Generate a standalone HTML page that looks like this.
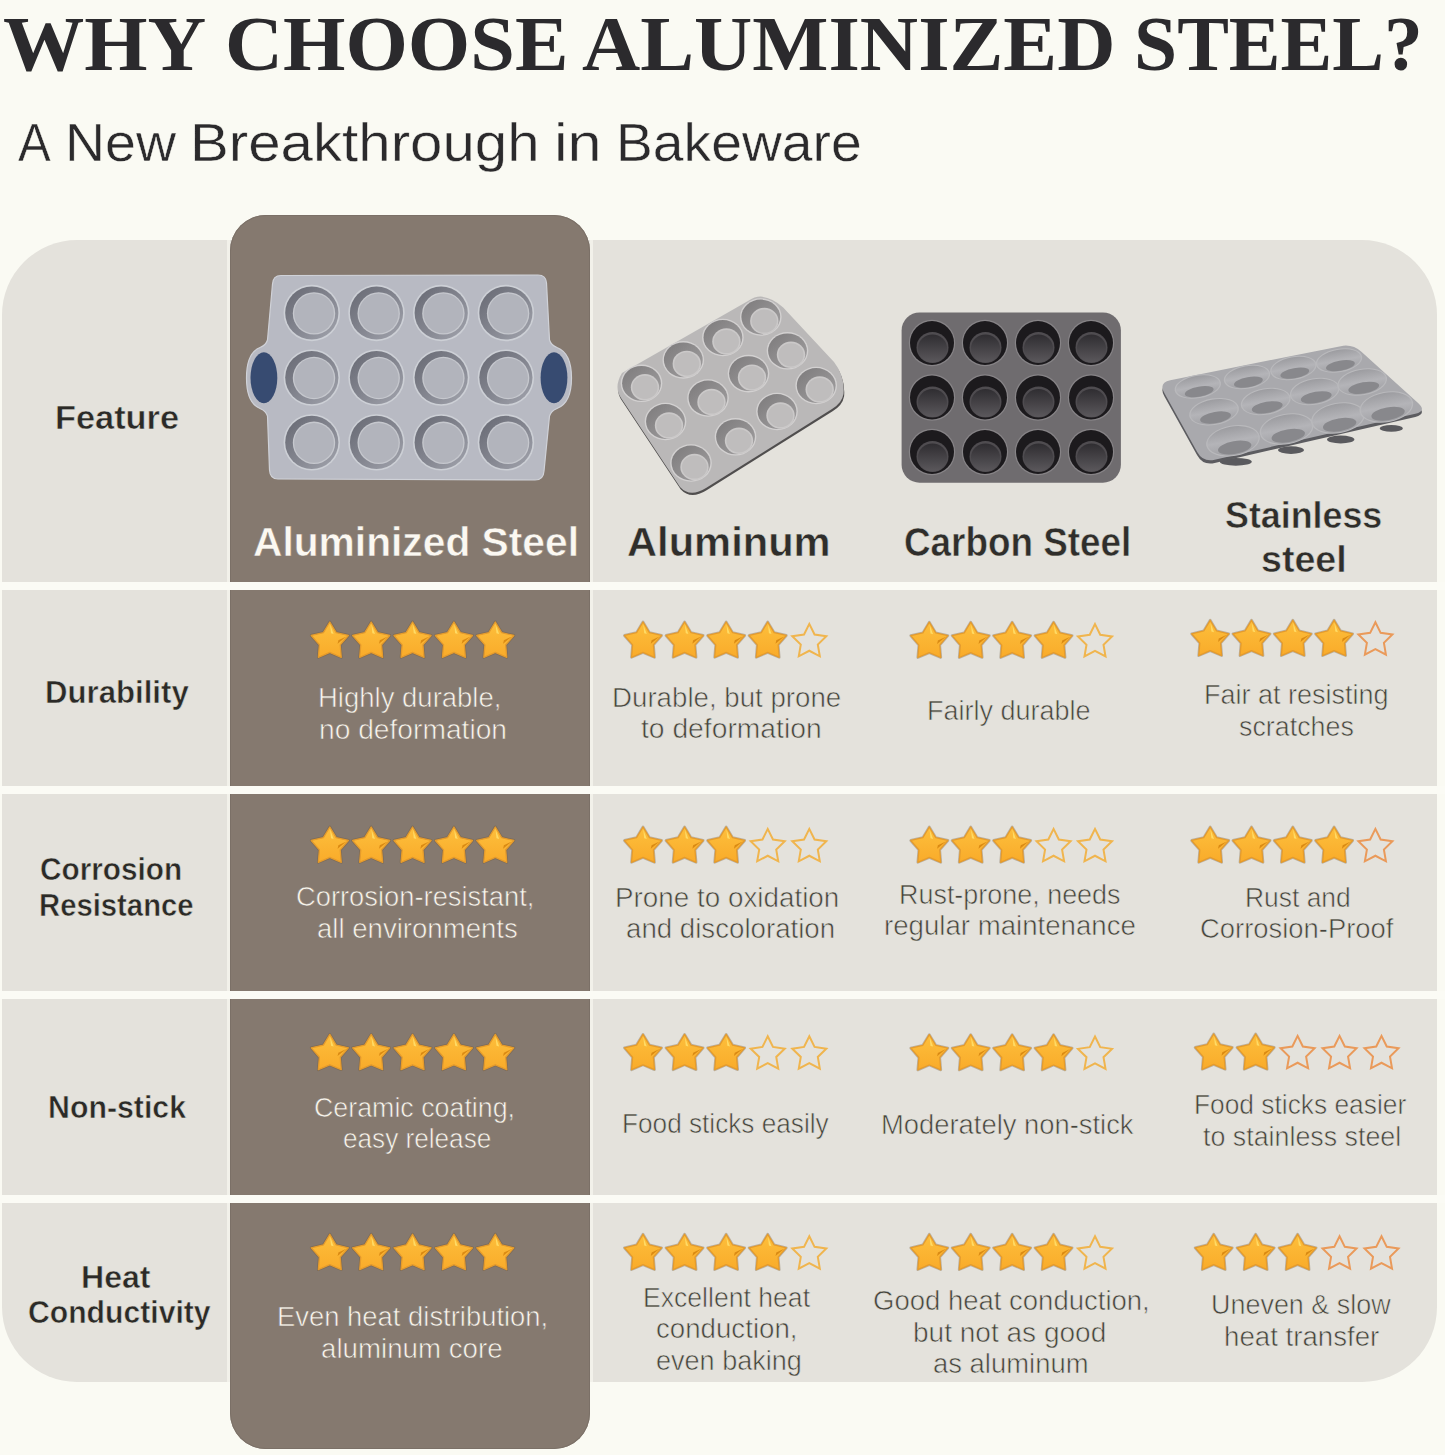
<!DOCTYPE html><html><head><meta charset="utf-8"><style>html,body{margin:0;padding:0;}body{width:1445px;height:1455px;position:relative;overflow:hidden;background:#fafaf3;}.t{position:absolute;white-space:nowrap;transform-origin:0 0;}.bx{position:absolute;}</style></head><body>
<div class="bx" style="left:2px;top:240px;width:1435px;height:1142px;border-radius:75px;background:#e4e2dc"></div>
<div class="bx" style="left:227px;top:240px;width:3px;height:1142px;background:#f2f1ea"></div>
<div class="bx" style="left:590px;top:240px;width:3px;height:1142px;background:#f2f1ea"></div>
<div class="bx" style="left:230px;top:215px;width:360px;height:1234px;border-radius:36px;background:#85796f;box-shadow:inset 0 0 0 1px #7b7067"></div>
<div class="bx" style="left:0px;top:582px;width:1445px;height:8px;background:#fbfbf5"></div>
<div class="bx" style="left:0px;top:786px;width:1445px;height:8px;background:#fbfbf5"></div>
<div class="bx" style="left:0px;top:991px;width:1445px;height:8px;background:#fbfbf5"></div>
<div class="bx" style="left:0px;top:1195px;width:1445px;height:8px;background:#fbfbf5"></div>
<svg class="bx" style="left:0;top:0" width="1445" height="1455" viewBox="0 0 1445 1455"><defs><linearGradient id="sg" x1="0" y1="0" x2="0" y2="1"><stop offset="0" stop-color="#fdbf3c"/><stop offset="1" stop-color="#f9ab2a"/></linearGradient><linearGradient id="ag" x1="0" y1="0" x2="1" y2="1"><stop offset="0" stop-color="#666872"/><stop offset="0.55" stop-color="#858791"/><stop offset="1" stop-color="#a3a5ae"/></linearGradient><linearGradient id="cg" x1="0" y1="0" x2="0" y2="1"><stop offset="0" stop-color="#2f2d31"/><stop offset="1" stop-color="#5b585c"/></linearGradient><linearGradient id="stg" x1="0" y1="0" x2="0" y2="1"><stop offset="0" stop-color="#9c9ca0"/><stop offset="0.5" stop-color="#b4b4b8"/><stop offset="1" stop-color="#a0a0a4"/></linearGradient><linearGradient id="alg" x1="0" y1="0" x2="1" y2="1"><stop offset="0" stop-color="#7c7a7b"/><stop offset="1" stop-color="#a3a1a2"/></linearGradient></defs>
<path d="M281,275.5 L538,275 Q546,275 546.5,283 L549.5,340 Q551,345 557,347.5 Q571.5,353 571.5,378 Q571.5,403 557,408.5 Q551,411 549.5,416 L544,471 Q543.5,480 535,480 L278,479 Q270,479 269.5,470 L267.5,416 Q266,411 260,408.5 Q246.5,403 246.5,378 Q246.5,353 260,347.5 Q266,345 267.5,340 L272.5,284 Q273,275.5 281,275.5 Z" fill="#b8bac3" stroke="#d0d2d8" stroke-width="1.2"/>
<ellipse cx="263.9" cy="377.7" rx="13.4" ry="25.5" fill="#374b71"/>
<ellipse cx="554.0" cy="377.7" rx="13.4" ry="25.5" fill="#374b71"/>
<circle cx="311.8" cy="313.0" r="28.2" fill="#cdd0d6"/>
<circle cx="311.8" cy="313.0" r="26.6" fill="url(#ag)"/>
<circle cx="314.0" cy="313.4" r="21.2" fill="#c6c8ce"/>
<circle cx="314.0" cy="313.4" r="19.9" fill="#b2b4bc"/>
<circle cx="376.5" cy="313.0" r="28.2" fill="#cdd0d6"/>
<circle cx="376.5" cy="313.0" r="26.6" fill="url(#ag)"/>
<circle cx="378.7" cy="313.4" r="21.2" fill="#c6c8ce"/>
<circle cx="378.7" cy="313.4" r="19.9" fill="#b2b4bc"/>
<circle cx="441.2" cy="313.0" r="28.2" fill="#cdd0d6"/>
<circle cx="441.2" cy="313.0" r="26.6" fill="url(#ag)"/>
<circle cx="443.4" cy="313.4" r="21.2" fill="#c6c8ce"/>
<circle cx="443.4" cy="313.4" r="19.9" fill="#b2b4bc"/>
<circle cx="505.9" cy="313.0" r="28.2" fill="#cdd0d6"/>
<circle cx="505.9" cy="313.0" r="26.6" fill="url(#ag)"/>
<circle cx="508.09999999999997" cy="313.4" r="21.2" fill="#c6c8ce"/>
<circle cx="508.09999999999997" cy="313.4" r="19.9" fill="#b2b4bc"/>
<circle cx="311.8" cy="377.6" r="28.2" fill="#cdd0d6"/>
<circle cx="311.8" cy="377.6" r="26.6" fill="url(#ag)"/>
<circle cx="314.0" cy="378.0" r="21.2" fill="#c6c8ce"/>
<circle cx="314.0" cy="378.0" r="19.9" fill="#b2b4bc"/>
<circle cx="376.5" cy="377.6" r="28.2" fill="#cdd0d6"/>
<circle cx="376.5" cy="377.6" r="26.6" fill="url(#ag)"/>
<circle cx="378.7" cy="378.0" r="21.2" fill="#c6c8ce"/>
<circle cx="378.7" cy="378.0" r="19.9" fill="#b2b4bc"/>
<circle cx="441.2" cy="377.6" r="28.2" fill="#cdd0d6"/>
<circle cx="441.2" cy="377.6" r="26.6" fill="url(#ag)"/>
<circle cx="443.4" cy="378.0" r="21.2" fill="#c6c8ce"/>
<circle cx="443.4" cy="378.0" r="19.9" fill="#b2b4bc"/>
<circle cx="505.9" cy="377.6" r="28.2" fill="#cdd0d6"/>
<circle cx="505.9" cy="377.6" r="26.6" fill="url(#ag)"/>
<circle cx="508.09999999999997" cy="378.0" r="21.2" fill="#c6c8ce"/>
<circle cx="508.09999999999997" cy="378.0" r="19.9" fill="#b2b4bc"/>
<circle cx="311.8" cy="442.4" r="28.2" fill="#cdd0d6"/>
<circle cx="311.8" cy="442.4" r="26.6" fill="url(#ag)"/>
<circle cx="314.0" cy="442.79999999999995" r="21.2" fill="#c6c8ce"/>
<circle cx="314.0" cy="442.79999999999995" r="19.9" fill="#b2b4bc"/>
<circle cx="376.5" cy="442.4" r="28.2" fill="#cdd0d6"/>
<circle cx="376.5" cy="442.4" r="26.6" fill="url(#ag)"/>
<circle cx="378.7" cy="442.79999999999995" r="21.2" fill="#c6c8ce"/>
<circle cx="378.7" cy="442.79999999999995" r="19.9" fill="#b2b4bc"/>
<circle cx="441.2" cy="442.4" r="28.2" fill="#cdd0d6"/>
<circle cx="441.2" cy="442.4" r="26.6" fill="url(#ag)"/>
<circle cx="443.4" cy="442.79999999999995" r="21.2" fill="#c6c8ce"/>
<circle cx="443.4" cy="442.79999999999995" r="19.9" fill="#b2b4bc"/>
<circle cx="505.9" cy="442.4" r="28.2" fill="#cdd0d6"/>
<circle cx="505.9" cy="442.4" r="26.6" fill="url(#ag)"/>
<circle cx="508.09999999999997" cy="442.79999999999995" r="21.2" fill="#c6c8ce"/>
<circle cx="508.09999999999997" cy="442.79999999999995" r="19.9" fill="#b2b4bc"/>
<path d="M760.8,296.6 Q772,297.5 783.2,307.4 L834,362 Q845,376 843.5,394 Q842,403 832,409 L706,488 Q690,498 680,487 L621,398 Q613.5,387 622,373 L748,301 Q755,296.5 760.8,296.6 Z" fill="#504e4e" transform="translate(0.6,2.2)"/>
<path d="M760.8,296.6 Q772,297.5 783.2,307.4 L834,362 Q845,376 843.5,394 Q842,403 832,409 L706,488 Q690,498 680,487 L621,398 Q613.5,387 622,373 L748,301 Q755,296.5 760.8,296.6 Z" fill="#bab8b8"/>
<ellipse cx="641.5" cy="383.3" rx="20.8" ry="18.8" fill="#d3d1d1"/>
<ellipse cx="641.5" cy="383.3" rx="19.4" ry="17.4" fill="url(#alg)"/>
<ellipse cx="645.0" cy="387.3" rx="14.2" ry="13.2" fill="#cbc9c9"/>
<ellipse cx="645.0" cy="387.3" rx="12.6" ry="11.6" fill="#bfbdbd"/>
<ellipse cx="683.3" cy="359.9" rx="20.8" ry="18.8" fill="#d3d1d1"/>
<ellipse cx="683.3" cy="359.9" rx="19.4" ry="17.4" fill="url(#alg)"/>
<ellipse cx="686.8" cy="363.9" rx="14.2" ry="13.2" fill="#cbc9c9"/>
<ellipse cx="686.8" cy="363.9" rx="12.6" ry="11.6" fill="#bfbdbd"/>
<ellipse cx="722.9" cy="337.5" rx="20.8" ry="18.8" fill="#d3d1d1"/>
<ellipse cx="722.9" cy="337.5" rx="19.4" ry="17.4" fill="url(#alg)"/>
<ellipse cx="726.4" cy="341.5" rx="14.2" ry="13.2" fill="#cbc9c9"/>
<ellipse cx="726.4" cy="341.5" rx="12.6" ry="11.6" fill="#bfbdbd"/>
<ellipse cx="760.8" cy="317.0" rx="20.8" ry="18.8" fill="#d3d1d1"/>
<ellipse cx="760.8" cy="317.0" rx="19.4" ry="17.4" fill="url(#alg)"/>
<ellipse cx="764.3" cy="321.0" rx="14.2" ry="13.2" fill="#cbc9c9"/>
<ellipse cx="764.3" cy="321.0" rx="12.6" ry="11.6" fill="#bfbdbd"/>
<ellipse cx="665.5" cy="421.5" rx="20.8" ry="18.8" fill="#d3d1d1"/>
<ellipse cx="665.5" cy="421.5" rx="19.4" ry="17.4" fill="url(#alg)"/>
<ellipse cx="669.0" cy="425.5" rx="14.2" ry="13.2" fill="#cbc9c9"/>
<ellipse cx="669.0" cy="425.5" rx="12.6" ry="11.6" fill="#bfbdbd"/>
<ellipse cx="708.0" cy="398.0" rx="20.8" ry="18.8" fill="#d3d1d1"/>
<ellipse cx="708.0" cy="398.0" rx="19.4" ry="17.4" fill="url(#alg)"/>
<ellipse cx="711.5" cy="402.0" rx="14.2" ry="13.2" fill="#cbc9c9"/>
<ellipse cx="711.5" cy="402.0" rx="12.6" ry="11.6" fill="#bfbdbd"/>
<ellipse cx="748.5" cy="373.6" rx="20.8" ry="18.8" fill="#d3d1d1"/>
<ellipse cx="748.5" cy="373.6" rx="19.4" ry="17.4" fill="url(#alg)"/>
<ellipse cx="752.0" cy="377.6" rx="14.2" ry="13.2" fill="#cbc9c9"/>
<ellipse cx="752.0" cy="377.6" rx="12.6" ry="11.6" fill="#bfbdbd"/>
<ellipse cx="787.5" cy="350.8" rx="20.8" ry="18.8" fill="#d3d1d1"/>
<ellipse cx="787.5" cy="350.8" rx="19.4" ry="17.4" fill="url(#alg)"/>
<ellipse cx="791.0" cy="354.8" rx="14.2" ry="13.2" fill="#cbc9c9"/>
<ellipse cx="791.0" cy="354.8" rx="12.6" ry="11.6" fill="#bfbdbd"/>
<ellipse cx="691.0" cy="463.0" rx="20.8" ry="18.8" fill="#d3d1d1"/>
<ellipse cx="691.0" cy="463.0" rx="19.4" ry="17.4" fill="url(#alg)"/>
<ellipse cx="694.5" cy="467.0" rx="14.2" ry="13.2" fill="#cbc9c9"/>
<ellipse cx="694.5" cy="467.0" rx="12.6" ry="11.6" fill="#bfbdbd"/>
<ellipse cx="735.5" cy="436.8" rx="20.8" ry="18.8" fill="#d3d1d1"/>
<ellipse cx="735.5" cy="436.8" rx="19.4" ry="17.4" fill="url(#alg)"/>
<ellipse cx="739.0" cy="440.8" rx="14.2" ry="13.2" fill="#cbc9c9"/>
<ellipse cx="739.0" cy="440.8" rx="12.6" ry="11.6" fill="#bfbdbd"/>
<ellipse cx="777.0" cy="411.5" rx="20.8" ry="18.8" fill="#d3d1d1"/>
<ellipse cx="777.0" cy="411.5" rx="19.4" ry="17.4" fill="url(#alg)"/>
<ellipse cx="780.5" cy="415.5" rx="14.2" ry="13.2" fill="#cbc9c9"/>
<ellipse cx="780.5" cy="415.5" rx="12.6" ry="11.6" fill="#bfbdbd"/>
<ellipse cx="816.2" cy="385.5" rx="20.8" ry="18.8" fill="#d3d1d1"/>
<ellipse cx="816.2" cy="385.5" rx="19.4" ry="17.4" fill="url(#alg)"/>
<ellipse cx="819.7" cy="389.5" rx="14.2" ry="13.2" fill="#cbc9c9"/>
<ellipse cx="819.7" cy="389.5" rx="12.6" ry="11.6" fill="#bfbdbd"/>
<rect x="901.6" y="312.5" width="219.3" height="170.2" rx="18" fill="#6f6c6f"/>
<circle cx="932.0" cy="343.0" r="23.2" fill="#878487"/>
<circle cx="932.0" cy="343.0" r="22" fill="#1c1a1d"/>
<ellipse cx="932.5" cy="347.5" rx="16" ry="15.5" fill="#4f4c50"/>
<ellipse cx="932.5" cy="348.5" rx="14.5" ry="14" fill="url(#cg)"/>
<circle cx="985.0" cy="343.0" r="23.2" fill="#878487"/>
<circle cx="985.0" cy="343.0" r="22" fill="#1c1a1d"/>
<ellipse cx="985.5" cy="347.5" rx="16" ry="15.5" fill="#4f4c50"/>
<ellipse cx="985.5" cy="348.5" rx="14.5" ry="14" fill="url(#cg)"/>
<circle cx="1038.0" cy="343.0" r="23.2" fill="#878487"/>
<circle cx="1038.0" cy="343.0" r="22" fill="#1c1a1d"/>
<ellipse cx="1038.5" cy="347.5" rx="16" ry="15.5" fill="#4f4c50"/>
<ellipse cx="1038.5" cy="348.5" rx="14.5" ry="14" fill="url(#cg)"/>
<circle cx="1091.0" cy="343.0" r="23.2" fill="#878487"/>
<circle cx="1091.0" cy="343.0" r="22" fill="#1c1a1d"/>
<ellipse cx="1091.5" cy="347.5" rx="16" ry="15.5" fill="#4f4c50"/>
<ellipse cx="1091.5" cy="348.5" rx="14.5" ry="14" fill="url(#cg)"/>
<circle cx="932.0" cy="397.5" r="23.2" fill="#878487"/>
<circle cx="932.0" cy="397.5" r="22" fill="#1c1a1d"/>
<ellipse cx="932.5" cy="402.0" rx="16" ry="15.5" fill="#4f4c50"/>
<ellipse cx="932.5" cy="403.0" rx="14.5" ry="14" fill="url(#cg)"/>
<circle cx="985.0" cy="397.5" r="23.2" fill="#878487"/>
<circle cx="985.0" cy="397.5" r="22" fill="#1c1a1d"/>
<ellipse cx="985.5" cy="402.0" rx="16" ry="15.5" fill="#4f4c50"/>
<ellipse cx="985.5" cy="403.0" rx="14.5" ry="14" fill="url(#cg)"/>
<circle cx="1038.0" cy="397.5" r="23.2" fill="#878487"/>
<circle cx="1038.0" cy="397.5" r="22" fill="#1c1a1d"/>
<ellipse cx="1038.5" cy="402.0" rx="16" ry="15.5" fill="#4f4c50"/>
<ellipse cx="1038.5" cy="403.0" rx="14.5" ry="14" fill="url(#cg)"/>
<circle cx="1091.0" cy="397.5" r="23.2" fill="#878487"/>
<circle cx="1091.0" cy="397.5" r="22" fill="#1c1a1d"/>
<ellipse cx="1091.5" cy="402.0" rx="16" ry="15.5" fill="#4f4c50"/>
<ellipse cx="1091.5" cy="403.0" rx="14.5" ry="14" fill="url(#cg)"/>
<circle cx="932.0" cy="452.0" r="23.2" fill="#878487"/>
<circle cx="932.0" cy="452.0" r="22" fill="#1c1a1d"/>
<ellipse cx="932.5" cy="456.5" rx="16" ry="15.5" fill="#4f4c50"/>
<ellipse cx="932.5" cy="457.5" rx="14.5" ry="14" fill="url(#cg)"/>
<circle cx="985.0" cy="452.0" r="23.2" fill="#878487"/>
<circle cx="985.0" cy="452.0" r="22" fill="#1c1a1d"/>
<ellipse cx="985.5" cy="456.5" rx="16" ry="15.5" fill="#4f4c50"/>
<ellipse cx="985.5" cy="457.5" rx="14.5" ry="14" fill="url(#cg)"/>
<circle cx="1038.0" cy="452.0" r="23.2" fill="#878487"/>
<circle cx="1038.0" cy="452.0" r="22" fill="#1c1a1d"/>
<ellipse cx="1038.5" cy="456.5" rx="16" ry="15.5" fill="#4f4c50"/>
<ellipse cx="1038.5" cy="457.5" rx="14.5" ry="14" fill="url(#cg)"/>
<circle cx="1091.0" cy="452.0" r="23.2" fill="#878487"/>
<circle cx="1091.0" cy="452.0" r="22" fill="#1c1a1d"/>
<ellipse cx="1091.5" cy="456.5" rx="16" ry="15.5" fill="#4f4c50"/>
<ellipse cx="1091.5" cy="457.5" rx="14.5" ry="14" fill="url(#cg)"/>
<ellipse cx="1235.8" cy="461.8" rx="16.0" ry="3.9" fill="#5a5a5e"/>
<ellipse cx="1291.0" cy="450.1" rx="13.0" ry="3.8" fill="#5a5a5e"/>
<ellipse cx="1340.7" cy="439.5" rx="13.7" ry="3.9" fill="#5a5a5e"/>
<ellipse cx="1391.3" cy="428.4" rx="11.6" ry="3.4" fill="#5a5a5e"/>
<path d="M1170.27,383.35 L1340.73,349.35 Q1352.50,347.00 1361.41,355.04 L1418.09,406.16 Q1427.00,414.20 1415.31,416.89 L1214.69,463.01 Q1203.00,465.70 1197.17,455.21 L1164.33,396.19 Q1158.50,385.70 1170.27,383.35Z" fill="#5c5c60"/>
<path d="M1170.27,380.15 L1340.73,346.15 Q1352.50,343.80 1361.41,351.84 L1418.09,402.96 Q1427.00,411.00 1415.31,413.69 L1214.69,459.81 Q1203.00,462.50 1197.17,452.01 L1164.33,392.99 Q1158.50,382.50 1170.27,380.15Z" fill="#a9a9ad"/>
<ellipse cx="1197.8" cy="386.5" rx="23.5" ry="11.8" transform="rotate(-10 1197.8 386.5)" fill="#b9b9bc"/>
<ellipse cx="1197.8" cy="386.5" rx="22.2" ry="10.7" transform="rotate(-10 1197.8 386.5)" fill="url(#stg)"/>
<ellipse cx="1198.3" cy="391.8" rx="14.6" ry="5.0" transform="rotate(-10 1197.8 386.5)" fill="#88888c"/>
<ellipse cx="1247.0" cy="377.0" rx="23.5" ry="11.8" transform="rotate(-10 1247.0 377.0)" fill="#b9b9bc"/>
<ellipse cx="1247.0" cy="377.0" rx="22.2" ry="10.7" transform="rotate(-10 1247.0 377.0)" fill="url(#stg)"/>
<ellipse cx="1247.5" cy="382.3" rx="14.6" ry="5.0" transform="rotate(-10 1247.0 377.0)" fill="#88888c"/>
<ellipse cx="1293.4" cy="368.0" rx="23.5" ry="11.8" transform="rotate(-10 1293.4 368.0)" fill="#b9b9bc"/>
<ellipse cx="1293.4" cy="368.0" rx="22.2" ry="10.7" transform="rotate(-10 1293.4 368.0)" fill="url(#stg)"/>
<ellipse cx="1293.9" cy="373.3" rx="14.6" ry="5.0" transform="rotate(-10 1293.4 368.0)" fill="#88888c"/>
<ellipse cx="1339.0" cy="360.5" rx="23.5" ry="11.8" transform="rotate(-10 1339.0 360.5)" fill="#b9b9bc"/>
<ellipse cx="1339.0" cy="360.5" rx="22.2" ry="10.7" transform="rotate(-10 1339.0 360.5)" fill="url(#stg)"/>
<ellipse cx="1339.5" cy="365.8" rx="14.6" ry="5.0" transform="rotate(-10 1339.0 360.5)" fill="#88888c"/>
<ellipse cx="1214.0" cy="411.7" rx="25.2" ry="13.3" transform="rotate(-10 1214.0 411.7)" fill="#b9b9bc"/>
<ellipse cx="1214.0" cy="411.7" rx="23.9" ry="12.2" transform="rotate(-10 1214.0 411.7)" fill="url(#stg)"/>
<ellipse cx="1214.5" cy="417.7" rx="15.6" ry="5.6" transform="rotate(-10 1214.0 411.7)" fill="#88888c"/>
<ellipse cx="1265.7" cy="401.5" rx="25.2" ry="13.3" transform="rotate(-10 1265.7 401.5)" fill="#b9b9bc"/>
<ellipse cx="1265.7" cy="401.5" rx="23.9" ry="12.2" transform="rotate(-10 1265.7 401.5)" fill="url(#stg)"/>
<ellipse cx="1266.2" cy="407.5" rx="15.6" ry="5.6" transform="rotate(-10 1265.7 401.5)" fill="#88888c"/>
<ellipse cx="1314.7" cy="391.5" rx="25.2" ry="13.3" transform="rotate(-10 1314.7 391.5)" fill="#b9b9bc"/>
<ellipse cx="1314.7" cy="391.5" rx="23.9" ry="12.2" transform="rotate(-10 1314.7 391.5)" fill="url(#stg)"/>
<ellipse cx="1315.2" cy="397.5" rx="15.6" ry="5.6" transform="rotate(-10 1314.7 391.5)" fill="#88888c"/>
<ellipse cx="1362.2" cy="382.0" rx="25.2" ry="13.3" transform="rotate(-10 1362.2 382.0)" fill="#b9b9bc"/>
<ellipse cx="1362.2" cy="382.0" rx="23.9" ry="12.2" transform="rotate(-10 1362.2 382.0)" fill="url(#stg)"/>
<ellipse cx="1362.7" cy="388.0" rx="15.6" ry="5.6" transform="rotate(-10 1362.2 382.0)" fill="#88888c"/>
<ellipse cx="1233.0" cy="440.8" rx="27.2" ry="15.3" transform="rotate(-10 1233.0 440.8)" fill="#b9b9bc"/>
<ellipse cx="1233.0" cy="440.8" rx="25.9" ry="14.2" transform="rotate(-10 1233.0 440.8)" fill="url(#stg)"/>
<ellipse cx="1233.5" cy="447.7" rx="16.9" ry="6.4" transform="rotate(-10 1233.0 440.8)" fill="#88888c"/>
<ellipse cx="1286.6" cy="429.0" rx="27.2" ry="15.3" transform="rotate(-10 1286.6 429.0)" fill="#b9b9bc"/>
<ellipse cx="1286.6" cy="429.0" rx="25.9" ry="14.2" transform="rotate(-10 1286.6 429.0)" fill="url(#stg)"/>
<ellipse cx="1287.1" cy="435.9" rx="16.9" ry="6.4" transform="rotate(-10 1286.6 429.0)" fill="#88888c"/>
<ellipse cx="1338.0" cy="418.0" rx="27.2" ry="15.3" transform="rotate(-10 1338.0 418.0)" fill="#b9b9bc"/>
<ellipse cx="1338.0" cy="418.0" rx="25.9" ry="14.2" transform="rotate(-10 1338.0 418.0)" fill="url(#stg)"/>
<ellipse cx="1338.5" cy="424.9" rx="16.9" ry="6.4" transform="rotate(-10 1338.0 418.0)" fill="#88888c"/>
<ellipse cx="1386.4" cy="407.0" rx="27.2" ry="15.3" transform="rotate(-10 1386.4 407.0)" fill="#b9b9bc"/>
<ellipse cx="1386.4" cy="407.0" rx="25.9" ry="14.2" transform="rotate(-10 1386.4 407.0)" fill="url(#stg)"/>
<ellipse cx="1386.9" cy="413.9" rx="16.9" ry="6.4" transform="rotate(-10 1386.4 407.0)" fill="#88888c"/>
<path d="M329.80,622.00 L336.22,632.67 L348.35,635.47 L340.19,644.87 L341.26,657.28 L329.80,652.42 L318.34,657.28 L319.41,644.87 L311.25,635.47 L323.38,632.67Z" fill="none" stroke="#6a5234" stroke-opacity="0.35" stroke-width="2.8" stroke-linejoin="round"/>
<path d="M329.80,622.00 L336.22,632.67 L348.35,635.47 L340.19,644.87 L341.26,657.28 L329.80,652.42 L318.34,657.28 L319.41,644.87 L311.25,635.47 L323.38,632.67Z" fill="url(#sg)" stroke="#e59b2c" stroke-width="1.3" stroke-linejoin="round"/>
<path d="M330.10,624.50 L333.60,634.00 L331.00,633.30 Z" fill="#ffdf6a" opacity="0.9"/>
<path d="M346.30,636.50 L337.60,643.70 L338.40,640.30 Z" fill="#d68510" opacity="0.9"/>
<path d="M371.18,622.00 L377.59,632.67 L389.72,635.47 L381.56,644.87 L382.64,657.28 L371.18,652.42 L359.71,657.28 L360.79,644.87 L352.63,635.47 L364.76,632.67Z" fill="none" stroke="#6a5234" stroke-opacity="0.35" stroke-width="2.8" stroke-linejoin="round"/>
<path d="M371.18,622.00 L377.59,632.67 L389.72,635.47 L381.56,644.87 L382.64,657.28 L371.18,652.42 L359.71,657.28 L360.79,644.87 L352.63,635.47 L364.76,632.67Z" fill="url(#sg)" stroke="#e59b2c" stroke-width="1.3" stroke-linejoin="round"/>
<path d="M371.48,624.50 L374.98,634.00 L372.38,633.30 Z" fill="#ffdf6a" opacity="0.9"/>
<path d="M387.68,636.50 L378.98,643.70 L379.78,640.30 Z" fill="#d68510" opacity="0.9"/>
<path d="M412.55,622.00 L418.97,632.67 L431.10,635.47 L422.94,644.87 L424.01,657.28 L412.55,652.42 L401.09,657.28 L402.16,644.87 L394.00,635.47 L406.13,632.67Z" fill="none" stroke="#6a5234" stroke-opacity="0.35" stroke-width="2.8" stroke-linejoin="round"/>
<path d="M412.55,622.00 L418.97,632.67 L431.10,635.47 L422.94,644.87 L424.01,657.28 L412.55,652.42 L401.09,657.28 L402.16,644.87 L394.00,635.47 L406.13,632.67Z" fill="url(#sg)" stroke="#e59b2c" stroke-width="1.3" stroke-linejoin="round"/>
<path d="M412.85,624.50 L416.35,634.00 L413.75,633.30 Z" fill="#ffdf6a" opacity="0.9"/>
<path d="M429.05,636.50 L420.35,643.70 L421.15,640.30 Z" fill="#d68510" opacity="0.9"/>
<path d="M453.93,622.00 L460.34,632.67 L472.47,635.47 L464.31,644.87 L465.39,657.28 L453.93,652.42 L442.46,657.28 L443.54,644.87 L435.38,635.47 L447.51,632.67Z" fill="none" stroke="#6a5234" stroke-opacity="0.35" stroke-width="2.8" stroke-linejoin="round"/>
<path d="M453.93,622.00 L460.34,632.67 L472.47,635.47 L464.31,644.87 L465.39,657.28 L453.93,652.42 L442.46,657.28 L443.54,644.87 L435.38,635.47 L447.51,632.67Z" fill="url(#sg)" stroke="#e59b2c" stroke-width="1.3" stroke-linejoin="round"/>
<path d="M454.23,624.50 L457.73,634.00 L455.12,633.30 Z" fill="#ffdf6a" opacity="0.9"/>
<path d="M470.43,636.50 L461.73,643.70 L462.53,640.30 Z" fill="#d68510" opacity="0.9"/>
<path d="M495.30,622.00 L501.72,632.67 L513.85,635.47 L505.69,644.87 L506.76,657.28 L495.30,652.42 L483.84,657.28 L484.91,644.87 L476.75,635.47 L488.88,632.67Z" fill="none" stroke="#6a5234" stroke-opacity="0.35" stroke-width="2.8" stroke-linejoin="round"/>
<path d="M495.30,622.00 L501.72,632.67 L513.85,635.47 L505.69,644.87 L506.76,657.28 L495.30,652.42 L483.84,657.28 L484.91,644.87 L476.75,635.47 L488.88,632.67Z" fill="url(#sg)" stroke="#e59b2c" stroke-width="1.3" stroke-linejoin="round"/>
<path d="M495.60,624.50 L499.10,634.00 L496.50,633.30 Z" fill="#ffdf6a" opacity="0.9"/>
<path d="M511.80,636.50 L503.10,643.70 L503.90,640.30 Z" fill="#d68510" opacity="0.9"/>
<path d="M643.00,622.00 L649.42,632.67 L661.55,635.47 L653.39,644.87 L654.46,657.28 L643.00,652.42 L631.54,657.28 L632.61,644.87 L624.45,635.47 L636.58,632.67Z" fill="none" stroke="#6a5234" stroke-opacity="0.35" stroke-width="2.8" stroke-linejoin="round"/>
<path d="M643.00,622.00 L649.42,632.67 L661.55,635.47 L653.39,644.87 L654.46,657.28 L643.00,652.42 L631.54,657.28 L632.61,644.87 L624.45,635.47 L636.58,632.67Z" fill="url(#sg)" stroke="#e59b2c" stroke-width="1.3" stroke-linejoin="round"/>
<path d="M643.30,624.50 L646.80,634.00 L644.20,633.30 Z" fill="#ffdf6a" opacity="0.9"/>
<path d="M659.50,636.50 L650.80,643.70 L651.60,640.30 Z" fill="#d68510" opacity="0.9"/>
<path d="M684.58,622.00 L690.99,632.67 L703.12,635.47 L694.96,644.87 L696.04,657.28 L684.58,652.42 L673.11,657.28 L674.19,644.87 L666.03,635.47 L678.16,632.67Z" fill="none" stroke="#6a5234" stroke-opacity="0.35" stroke-width="2.8" stroke-linejoin="round"/>
<path d="M684.58,622.00 L690.99,632.67 L703.12,635.47 L694.96,644.87 L696.04,657.28 L684.58,652.42 L673.11,657.28 L674.19,644.87 L666.03,635.47 L678.16,632.67Z" fill="url(#sg)" stroke="#e59b2c" stroke-width="1.3" stroke-linejoin="round"/>
<path d="M684.88,624.50 L688.38,634.00 L685.78,633.30 Z" fill="#ffdf6a" opacity="0.9"/>
<path d="M701.08,636.50 L692.38,643.70 L693.18,640.30 Z" fill="#d68510" opacity="0.9"/>
<path d="M726.15,622.00 L732.57,632.67 L744.70,635.47 L736.54,644.87 L737.61,657.28 L726.15,652.42 L714.69,657.28 L715.76,644.87 L707.60,635.47 L719.73,632.67Z" fill="none" stroke="#6a5234" stroke-opacity="0.35" stroke-width="2.8" stroke-linejoin="round"/>
<path d="M726.15,622.00 L732.57,632.67 L744.70,635.47 L736.54,644.87 L737.61,657.28 L726.15,652.42 L714.69,657.28 L715.76,644.87 L707.60,635.47 L719.73,632.67Z" fill="url(#sg)" stroke="#e59b2c" stroke-width="1.3" stroke-linejoin="round"/>
<path d="M726.45,624.50 L729.95,634.00 L727.35,633.30 Z" fill="#ffdf6a" opacity="0.9"/>
<path d="M742.65,636.50 L733.95,643.70 L734.75,640.30 Z" fill="#d68510" opacity="0.9"/>
<path d="M767.72,622.00 L774.14,632.67 L786.27,635.47 L778.11,644.87 L779.19,657.28 L767.72,652.42 L756.26,657.28 L757.34,644.87 L749.18,635.47 L761.31,632.67Z" fill="none" stroke="#6a5234" stroke-opacity="0.35" stroke-width="2.8" stroke-linejoin="round"/>
<path d="M767.72,622.00 L774.14,632.67 L786.27,635.47 L778.11,644.87 L779.19,657.28 L767.72,652.42 L756.26,657.28 L757.34,644.87 L749.18,635.47 L761.31,632.67Z" fill="url(#sg)" stroke="#e59b2c" stroke-width="1.3" stroke-linejoin="round"/>
<path d="M768.02,624.50 L771.52,634.00 L768.92,633.30 Z" fill="#ffdf6a" opacity="0.9"/>
<path d="M784.22,636.50 L775.52,643.70 L776.32,640.30 Z" fill="#d68510" opacity="0.9"/>
<path d="M809.30,623.90 L814.56,634.56 L826.32,636.27 L817.81,644.57 L819.82,656.28 L809.30,650.75 L798.78,656.28 L800.79,644.57 L792.28,636.27 L804.04,634.56Z" fill="none" stroke="#f0b54e" stroke-width="2.0" stroke-linejoin="miter"/>
<path d="M929.30,622.20 L935.72,632.87 L947.85,635.67 L939.69,645.07 L940.76,657.48 L929.30,652.62 L917.84,657.48 L918.91,645.07 L910.75,635.67 L922.88,632.87Z" fill="none" stroke="#6a5234" stroke-opacity="0.35" stroke-width="2.8" stroke-linejoin="round"/>
<path d="M929.30,622.20 L935.72,632.87 L947.85,635.67 L939.69,645.07 L940.76,657.48 L929.30,652.62 L917.84,657.48 L918.91,645.07 L910.75,635.67 L922.88,632.87Z" fill="url(#sg)" stroke="#e59b2c" stroke-width="1.3" stroke-linejoin="round"/>
<path d="M929.60,624.70 L933.10,634.20 L930.50,633.50 Z" fill="#ffdf6a" opacity="0.9"/>
<path d="M945.80,636.70 L937.10,643.90 L937.90,640.50 Z" fill="#d68510" opacity="0.9"/>
<path d="M970.72,622.20 L977.14,632.87 L989.27,635.67 L981.11,645.07 L982.19,657.48 L970.72,652.62 L959.26,657.48 L960.34,645.07 L952.18,635.67 L964.31,632.87Z" fill="none" stroke="#6a5234" stroke-opacity="0.35" stroke-width="2.8" stroke-linejoin="round"/>
<path d="M970.72,622.20 L977.14,632.87 L989.27,635.67 L981.11,645.07 L982.19,657.48 L970.72,652.62 L959.26,657.48 L960.34,645.07 L952.18,635.67 L964.31,632.87Z" fill="url(#sg)" stroke="#e59b2c" stroke-width="1.3" stroke-linejoin="round"/>
<path d="M971.02,624.70 L974.52,634.20 L971.92,633.50 Z" fill="#ffdf6a" opacity="0.9"/>
<path d="M987.22,636.70 L978.52,643.90 L979.32,640.50 Z" fill="#d68510" opacity="0.9"/>
<path d="M1012.15,622.20 L1018.57,632.87 L1030.70,635.67 L1022.54,645.07 L1023.61,657.48 L1012.15,652.62 L1000.69,657.48 L1001.76,645.07 L993.60,635.67 L1005.73,632.87Z" fill="none" stroke="#6a5234" stroke-opacity="0.35" stroke-width="2.8" stroke-linejoin="round"/>
<path d="M1012.15,622.20 L1018.57,632.87 L1030.70,635.67 L1022.54,645.07 L1023.61,657.48 L1012.15,652.62 L1000.69,657.48 L1001.76,645.07 L993.60,635.67 L1005.73,632.87Z" fill="url(#sg)" stroke="#e59b2c" stroke-width="1.3" stroke-linejoin="round"/>
<path d="M1012.45,624.70 L1015.95,634.20 L1013.35,633.50 Z" fill="#ffdf6a" opacity="0.9"/>
<path d="M1028.65,636.70 L1019.95,643.90 L1020.75,640.50 Z" fill="#d68510" opacity="0.9"/>
<path d="M1053.58,622.20 L1059.99,632.87 L1072.12,635.67 L1063.96,645.07 L1065.04,657.48 L1053.58,652.62 L1042.11,657.48 L1043.19,645.07 L1035.03,635.67 L1047.16,632.87Z" fill="none" stroke="#6a5234" stroke-opacity="0.35" stroke-width="2.8" stroke-linejoin="round"/>
<path d="M1053.58,622.20 L1059.99,632.87 L1072.12,635.67 L1063.96,645.07 L1065.04,657.48 L1053.58,652.62 L1042.11,657.48 L1043.19,645.07 L1035.03,635.67 L1047.16,632.87Z" fill="url(#sg)" stroke="#e59b2c" stroke-width="1.3" stroke-linejoin="round"/>
<path d="M1053.88,624.70 L1057.38,634.20 L1054.78,633.50 Z" fill="#ffdf6a" opacity="0.9"/>
<path d="M1070.08,636.70 L1061.38,643.90 L1062.17,640.50 Z" fill="#d68510" opacity="0.9"/>
<path d="M1095.00,624.10 L1100.26,634.76 L1112.02,636.47 L1103.51,644.77 L1105.52,656.48 L1095.00,650.95 L1084.48,656.48 L1086.49,644.77 L1077.98,636.47 L1089.74,634.76Z" fill="none" stroke="#f0b54e" stroke-width="2.0" stroke-linejoin="miter"/>
<path d="M1210.20,620.30 L1216.62,630.97 L1228.75,633.77 L1220.59,643.17 L1221.66,655.58 L1210.20,650.72 L1198.74,655.58 L1199.81,643.17 L1191.65,633.77 L1203.78,630.97Z" fill="none" stroke="#6a5234" stroke-opacity="0.35" stroke-width="2.8" stroke-linejoin="round"/>
<path d="M1210.20,620.30 L1216.62,630.97 L1228.75,633.77 L1220.59,643.17 L1221.66,655.58 L1210.20,650.72 L1198.74,655.58 L1199.81,643.17 L1191.65,633.77 L1203.78,630.97Z" fill="url(#sg)" stroke="#e59b2c" stroke-width="1.3" stroke-linejoin="round"/>
<path d="M1210.50,622.80 L1214.00,632.30 L1211.40,631.60 Z" fill="#ffdf6a" opacity="0.9"/>
<path d="M1226.70,634.80 L1218.00,642.00 L1218.80,638.60 Z" fill="#d68510" opacity="0.9"/>
<path d="M1251.50,620.30 L1257.92,630.97 L1270.05,633.77 L1261.89,643.17 L1262.96,655.58 L1251.50,650.72 L1240.04,655.58 L1241.11,643.17 L1232.95,633.77 L1245.08,630.97Z" fill="none" stroke="#6a5234" stroke-opacity="0.35" stroke-width="2.8" stroke-linejoin="round"/>
<path d="M1251.50,620.30 L1257.92,630.97 L1270.05,633.77 L1261.89,643.17 L1262.96,655.58 L1251.50,650.72 L1240.04,655.58 L1241.11,643.17 L1232.95,633.77 L1245.08,630.97Z" fill="url(#sg)" stroke="#e59b2c" stroke-width="1.3" stroke-linejoin="round"/>
<path d="M1251.80,622.80 L1255.30,632.30 L1252.70,631.60 Z" fill="#ffdf6a" opacity="0.9"/>
<path d="M1268.00,634.80 L1259.30,642.00 L1260.10,638.60 Z" fill="#d68510" opacity="0.9"/>
<path d="M1292.80,620.30 L1299.22,630.97 L1311.35,633.77 L1303.19,643.17 L1304.26,655.58 L1292.80,650.72 L1281.34,655.58 L1282.41,643.17 L1274.25,633.77 L1286.38,630.97Z" fill="none" stroke="#6a5234" stroke-opacity="0.35" stroke-width="2.8" stroke-linejoin="round"/>
<path d="M1292.80,620.30 L1299.22,630.97 L1311.35,633.77 L1303.19,643.17 L1304.26,655.58 L1292.80,650.72 L1281.34,655.58 L1282.41,643.17 L1274.25,633.77 L1286.38,630.97Z" fill="url(#sg)" stroke="#e59b2c" stroke-width="1.3" stroke-linejoin="round"/>
<path d="M1293.10,622.80 L1296.60,632.30 L1294.00,631.60 Z" fill="#ffdf6a" opacity="0.9"/>
<path d="M1309.30,634.80 L1300.60,642.00 L1301.40,638.60 Z" fill="#d68510" opacity="0.9"/>
<path d="M1334.10,620.30 L1340.52,630.97 L1352.65,633.77 L1344.49,643.17 L1345.56,655.58 L1334.10,650.72 L1322.64,655.58 L1323.71,643.17 L1315.55,633.77 L1327.68,630.97Z" fill="none" stroke="#6a5234" stroke-opacity="0.35" stroke-width="2.8" stroke-linejoin="round"/>
<path d="M1334.10,620.30 L1340.52,630.97 L1352.65,633.77 L1344.49,643.17 L1345.56,655.58 L1334.10,650.72 L1322.64,655.58 L1323.71,643.17 L1315.55,633.77 L1327.68,630.97Z" fill="url(#sg)" stroke="#e59b2c" stroke-width="1.3" stroke-linejoin="round"/>
<path d="M1334.40,622.80 L1337.90,632.30 L1335.30,631.60 Z" fill="#ffdf6a" opacity="0.9"/>
<path d="M1350.60,634.80 L1341.90,642.00 L1342.70,638.60 Z" fill="#d68510" opacity="0.9"/>
<path d="M1375.40,622.20 L1380.66,632.86 L1392.42,634.57 L1383.91,642.87 L1385.92,654.58 L1375.40,649.05 L1364.88,654.58 L1366.89,642.87 L1358.38,634.57 L1370.14,632.86Z" fill="none" stroke="#ea9a5a" stroke-width="2.0" stroke-linejoin="miter"/>
<path d="M329.80,827.00 L336.22,837.67 L348.35,840.47 L340.19,849.87 L341.26,862.28 L329.80,857.42 L318.34,862.28 L319.41,849.87 L311.25,840.47 L323.38,837.67Z" fill="none" stroke="#6a5234" stroke-opacity="0.35" stroke-width="2.8" stroke-linejoin="round"/>
<path d="M329.80,827.00 L336.22,837.67 L348.35,840.47 L340.19,849.87 L341.26,862.28 L329.80,857.42 L318.34,862.28 L319.41,849.87 L311.25,840.47 L323.38,837.67Z" fill="url(#sg)" stroke="#e59b2c" stroke-width="1.3" stroke-linejoin="round"/>
<path d="M330.10,829.50 L333.60,839.00 L331.00,838.30 Z" fill="#ffdf6a" opacity="0.9"/>
<path d="M346.30,841.50 L337.60,848.70 L338.40,845.30 Z" fill="#d68510" opacity="0.9"/>
<path d="M371.18,827.00 L377.59,837.67 L389.72,840.47 L381.56,849.87 L382.64,862.28 L371.18,857.42 L359.71,862.28 L360.79,849.87 L352.63,840.47 L364.76,837.67Z" fill="none" stroke="#6a5234" stroke-opacity="0.35" stroke-width="2.8" stroke-linejoin="round"/>
<path d="M371.18,827.00 L377.59,837.67 L389.72,840.47 L381.56,849.87 L382.64,862.28 L371.18,857.42 L359.71,862.28 L360.79,849.87 L352.63,840.47 L364.76,837.67Z" fill="url(#sg)" stroke="#e59b2c" stroke-width="1.3" stroke-linejoin="round"/>
<path d="M371.48,829.50 L374.98,839.00 L372.38,838.30 Z" fill="#ffdf6a" opacity="0.9"/>
<path d="M387.68,841.50 L378.98,848.70 L379.78,845.30 Z" fill="#d68510" opacity="0.9"/>
<path d="M412.55,827.00 L418.97,837.67 L431.10,840.47 L422.94,849.87 L424.01,862.28 L412.55,857.42 L401.09,862.28 L402.16,849.87 L394.00,840.47 L406.13,837.67Z" fill="none" stroke="#6a5234" stroke-opacity="0.35" stroke-width="2.8" stroke-linejoin="round"/>
<path d="M412.55,827.00 L418.97,837.67 L431.10,840.47 L422.94,849.87 L424.01,862.28 L412.55,857.42 L401.09,862.28 L402.16,849.87 L394.00,840.47 L406.13,837.67Z" fill="url(#sg)" stroke="#e59b2c" stroke-width="1.3" stroke-linejoin="round"/>
<path d="M412.85,829.50 L416.35,839.00 L413.75,838.30 Z" fill="#ffdf6a" opacity="0.9"/>
<path d="M429.05,841.50 L420.35,848.70 L421.15,845.30 Z" fill="#d68510" opacity="0.9"/>
<path d="M453.93,827.00 L460.34,837.67 L472.47,840.47 L464.31,849.87 L465.39,862.28 L453.93,857.42 L442.46,862.28 L443.54,849.87 L435.38,840.47 L447.51,837.67Z" fill="none" stroke="#6a5234" stroke-opacity="0.35" stroke-width="2.8" stroke-linejoin="round"/>
<path d="M453.93,827.00 L460.34,837.67 L472.47,840.47 L464.31,849.87 L465.39,862.28 L453.93,857.42 L442.46,862.28 L443.54,849.87 L435.38,840.47 L447.51,837.67Z" fill="url(#sg)" stroke="#e59b2c" stroke-width="1.3" stroke-linejoin="round"/>
<path d="M454.23,829.50 L457.73,839.00 L455.12,838.30 Z" fill="#ffdf6a" opacity="0.9"/>
<path d="M470.43,841.50 L461.73,848.70 L462.53,845.30 Z" fill="#d68510" opacity="0.9"/>
<path d="M495.30,827.00 L501.72,837.67 L513.85,840.47 L505.69,849.87 L506.76,862.28 L495.30,857.42 L483.84,862.28 L484.91,849.87 L476.75,840.47 L488.88,837.67Z" fill="none" stroke="#6a5234" stroke-opacity="0.35" stroke-width="2.8" stroke-linejoin="round"/>
<path d="M495.30,827.00 L501.72,837.67 L513.85,840.47 L505.69,849.87 L506.76,862.28 L495.30,857.42 L483.84,862.28 L484.91,849.87 L476.75,840.47 L488.88,837.67Z" fill="url(#sg)" stroke="#e59b2c" stroke-width="1.3" stroke-linejoin="round"/>
<path d="M495.60,829.50 L499.10,839.00 L496.50,838.30 Z" fill="#ffdf6a" opacity="0.9"/>
<path d="M511.80,841.50 L503.10,848.70 L503.90,845.30 Z" fill="#d68510" opacity="0.9"/>
<path d="M643.00,827.00 L649.42,837.67 L661.55,840.47 L653.39,849.87 L654.46,862.28 L643.00,857.42 L631.54,862.28 L632.61,849.87 L624.45,840.47 L636.58,837.67Z" fill="none" stroke="#6a5234" stroke-opacity="0.35" stroke-width="2.8" stroke-linejoin="round"/>
<path d="M643.00,827.00 L649.42,837.67 L661.55,840.47 L653.39,849.87 L654.46,862.28 L643.00,857.42 L631.54,862.28 L632.61,849.87 L624.45,840.47 L636.58,837.67Z" fill="url(#sg)" stroke="#e59b2c" stroke-width="1.3" stroke-linejoin="round"/>
<path d="M643.30,829.50 L646.80,839.00 L644.20,838.30 Z" fill="#ffdf6a" opacity="0.9"/>
<path d="M659.50,841.50 L650.80,848.70 L651.60,845.30 Z" fill="#d68510" opacity="0.9"/>
<path d="M684.58,827.00 L690.99,837.67 L703.12,840.47 L694.96,849.87 L696.04,862.28 L684.58,857.42 L673.11,862.28 L674.19,849.87 L666.03,840.47 L678.16,837.67Z" fill="none" stroke="#6a5234" stroke-opacity="0.35" stroke-width="2.8" stroke-linejoin="round"/>
<path d="M684.58,827.00 L690.99,837.67 L703.12,840.47 L694.96,849.87 L696.04,862.28 L684.58,857.42 L673.11,862.28 L674.19,849.87 L666.03,840.47 L678.16,837.67Z" fill="url(#sg)" stroke="#e59b2c" stroke-width="1.3" stroke-linejoin="round"/>
<path d="M684.88,829.50 L688.38,839.00 L685.78,838.30 Z" fill="#ffdf6a" opacity="0.9"/>
<path d="M701.08,841.50 L692.38,848.70 L693.18,845.30 Z" fill="#d68510" opacity="0.9"/>
<path d="M726.15,827.00 L732.57,837.67 L744.70,840.47 L736.54,849.87 L737.61,862.28 L726.15,857.42 L714.69,862.28 L715.76,849.87 L707.60,840.47 L719.73,837.67Z" fill="none" stroke="#6a5234" stroke-opacity="0.35" stroke-width="2.8" stroke-linejoin="round"/>
<path d="M726.15,827.00 L732.57,837.67 L744.70,840.47 L736.54,849.87 L737.61,862.28 L726.15,857.42 L714.69,862.28 L715.76,849.87 L707.60,840.47 L719.73,837.67Z" fill="url(#sg)" stroke="#e59b2c" stroke-width="1.3" stroke-linejoin="round"/>
<path d="M726.45,829.50 L729.95,839.00 L727.35,838.30 Z" fill="#ffdf6a" opacity="0.9"/>
<path d="M742.65,841.50 L733.95,848.70 L734.75,845.30 Z" fill="#d68510" opacity="0.9"/>
<path d="M767.72,828.90 L772.99,839.56 L784.75,841.27 L776.24,849.57 L778.25,861.28 L767.72,855.75 L757.20,861.28 L759.21,849.57 L750.70,841.27 L762.46,839.56Z" fill="none" stroke="#f0b54e" stroke-width="2.0" stroke-linejoin="miter"/>
<path d="M809.30,828.90 L814.56,839.56 L826.32,841.27 L817.81,849.57 L819.82,861.28 L809.30,855.75 L798.78,861.28 L800.79,849.57 L792.28,841.27 L804.04,839.56Z" fill="none" stroke="#f0b54e" stroke-width="2.0" stroke-linejoin="miter"/>
<path d="M929.30,827.00 L935.72,837.67 L947.85,840.47 L939.69,849.87 L940.76,862.28 L929.30,857.42 L917.84,862.28 L918.91,849.87 L910.75,840.47 L922.88,837.67Z" fill="none" stroke="#6a5234" stroke-opacity="0.35" stroke-width="2.8" stroke-linejoin="round"/>
<path d="M929.30,827.00 L935.72,837.67 L947.85,840.47 L939.69,849.87 L940.76,862.28 L929.30,857.42 L917.84,862.28 L918.91,849.87 L910.75,840.47 L922.88,837.67Z" fill="url(#sg)" stroke="#e59b2c" stroke-width="1.3" stroke-linejoin="round"/>
<path d="M929.60,829.50 L933.10,839.00 L930.50,838.30 Z" fill="#ffdf6a" opacity="0.9"/>
<path d="M945.80,841.50 L937.10,848.70 L937.90,845.30 Z" fill="#d68510" opacity="0.9"/>
<path d="M970.72,827.00 L977.14,837.67 L989.27,840.47 L981.11,849.87 L982.19,862.28 L970.72,857.42 L959.26,862.28 L960.34,849.87 L952.18,840.47 L964.31,837.67Z" fill="none" stroke="#6a5234" stroke-opacity="0.35" stroke-width="2.8" stroke-linejoin="round"/>
<path d="M970.72,827.00 L977.14,837.67 L989.27,840.47 L981.11,849.87 L982.19,862.28 L970.72,857.42 L959.26,862.28 L960.34,849.87 L952.18,840.47 L964.31,837.67Z" fill="url(#sg)" stroke="#e59b2c" stroke-width="1.3" stroke-linejoin="round"/>
<path d="M971.02,829.50 L974.52,839.00 L971.92,838.30 Z" fill="#ffdf6a" opacity="0.9"/>
<path d="M987.22,841.50 L978.52,848.70 L979.32,845.30 Z" fill="#d68510" opacity="0.9"/>
<path d="M1012.15,827.00 L1018.57,837.67 L1030.70,840.47 L1022.54,849.87 L1023.61,862.28 L1012.15,857.42 L1000.69,862.28 L1001.76,849.87 L993.60,840.47 L1005.73,837.67Z" fill="none" stroke="#6a5234" stroke-opacity="0.35" stroke-width="2.8" stroke-linejoin="round"/>
<path d="M1012.15,827.00 L1018.57,837.67 L1030.70,840.47 L1022.54,849.87 L1023.61,862.28 L1012.15,857.42 L1000.69,862.28 L1001.76,849.87 L993.60,840.47 L1005.73,837.67Z" fill="url(#sg)" stroke="#e59b2c" stroke-width="1.3" stroke-linejoin="round"/>
<path d="M1012.45,829.50 L1015.95,839.00 L1013.35,838.30 Z" fill="#ffdf6a" opacity="0.9"/>
<path d="M1028.65,841.50 L1019.95,848.70 L1020.75,845.30 Z" fill="#d68510" opacity="0.9"/>
<path d="M1053.58,828.90 L1058.84,839.56 L1070.60,841.27 L1062.09,849.57 L1064.10,861.28 L1053.58,855.75 L1043.05,861.28 L1045.06,849.57 L1036.55,841.27 L1048.31,839.56Z" fill="none" stroke="#f0b54e" stroke-width="2.0" stroke-linejoin="miter"/>
<path d="M1095.00,828.90 L1100.26,839.56 L1112.02,841.27 L1103.51,849.57 L1105.52,861.28 L1095.00,855.75 L1084.48,861.28 L1086.49,849.57 L1077.98,841.27 L1089.74,839.56Z" fill="none" stroke="#f0b54e" stroke-width="2.0" stroke-linejoin="miter"/>
<path d="M1210.20,827.00 L1216.62,837.67 L1228.75,840.47 L1220.59,849.87 L1221.66,862.28 L1210.20,857.42 L1198.74,862.28 L1199.81,849.87 L1191.65,840.47 L1203.78,837.67Z" fill="none" stroke="#6a5234" stroke-opacity="0.35" stroke-width="2.8" stroke-linejoin="round"/>
<path d="M1210.20,827.00 L1216.62,837.67 L1228.75,840.47 L1220.59,849.87 L1221.66,862.28 L1210.20,857.42 L1198.74,862.28 L1199.81,849.87 L1191.65,840.47 L1203.78,837.67Z" fill="url(#sg)" stroke="#e59b2c" stroke-width="1.3" stroke-linejoin="round"/>
<path d="M1210.50,829.50 L1214.00,839.00 L1211.40,838.30 Z" fill="#ffdf6a" opacity="0.9"/>
<path d="M1226.70,841.50 L1218.00,848.70 L1218.80,845.30 Z" fill="#d68510" opacity="0.9"/>
<path d="M1251.50,827.00 L1257.92,837.67 L1270.05,840.47 L1261.89,849.87 L1262.96,862.28 L1251.50,857.42 L1240.04,862.28 L1241.11,849.87 L1232.95,840.47 L1245.08,837.67Z" fill="none" stroke="#6a5234" stroke-opacity="0.35" stroke-width="2.8" stroke-linejoin="round"/>
<path d="M1251.50,827.00 L1257.92,837.67 L1270.05,840.47 L1261.89,849.87 L1262.96,862.28 L1251.50,857.42 L1240.04,862.28 L1241.11,849.87 L1232.95,840.47 L1245.08,837.67Z" fill="url(#sg)" stroke="#e59b2c" stroke-width="1.3" stroke-linejoin="round"/>
<path d="M1251.80,829.50 L1255.30,839.00 L1252.70,838.30 Z" fill="#ffdf6a" opacity="0.9"/>
<path d="M1268.00,841.50 L1259.30,848.70 L1260.10,845.30 Z" fill="#d68510" opacity="0.9"/>
<path d="M1292.80,827.00 L1299.22,837.67 L1311.35,840.47 L1303.19,849.87 L1304.26,862.28 L1292.80,857.42 L1281.34,862.28 L1282.41,849.87 L1274.25,840.47 L1286.38,837.67Z" fill="none" stroke="#6a5234" stroke-opacity="0.35" stroke-width="2.8" stroke-linejoin="round"/>
<path d="M1292.80,827.00 L1299.22,837.67 L1311.35,840.47 L1303.19,849.87 L1304.26,862.28 L1292.80,857.42 L1281.34,862.28 L1282.41,849.87 L1274.25,840.47 L1286.38,837.67Z" fill="url(#sg)" stroke="#e59b2c" stroke-width="1.3" stroke-linejoin="round"/>
<path d="M1293.10,829.50 L1296.60,839.00 L1294.00,838.30 Z" fill="#ffdf6a" opacity="0.9"/>
<path d="M1309.30,841.50 L1300.60,848.70 L1301.40,845.30 Z" fill="#d68510" opacity="0.9"/>
<path d="M1334.10,827.00 L1340.52,837.67 L1352.65,840.47 L1344.49,849.87 L1345.56,862.28 L1334.10,857.42 L1322.64,862.28 L1323.71,849.87 L1315.55,840.47 L1327.68,837.67Z" fill="none" stroke="#6a5234" stroke-opacity="0.35" stroke-width="2.8" stroke-linejoin="round"/>
<path d="M1334.10,827.00 L1340.52,837.67 L1352.65,840.47 L1344.49,849.87 L1345.56,862.28 L1334.10,857.42 L1322.64,862.28 L1323.71,849.87 L1315.55,840.47 L1327.68,837.67Z" fill="url(#sg)" stroke="#e59b2c" stroke-width="1.3" stroke-linejoin="round"/>
<path d="M1334.40,829.50 L1337.90,839.00 L1335.30,838.30 Z" fill="#ffdf6a" opacity="0.9"/>
<path d="M1350.60,841.50 L1341.90,848.70 L1342.70,845.30 Z" fill="#d68510" opacity="0.9"/>
<path d="M1375.40,828.90 L1380.66,839.56 L1392.42,841.27 L1383.91,849.57 L1385.92,861.28 L1375.40,855.75 L1364.88,861.28 L1366.89,849.57 L1358.38,841.27 L1370.14,839.56Z" fill="none" stroke="#ea9a5a" stroke-width="2.0" stroke-linejoin="miter"/>
<path d="M329.80,1034.40 L336.22,1045.07 L348.35,1047.87 L340.19,1057.27 L341.26,1069.68 L329.80,1064.82 L318.34,1069.68 L319.41,1057.27 L311.25,1047.87 L323.38,1045.07Z" fill="none" stroke="#6a5234" stroke-opacity="0.35" stroke-width="2.8" stroke-linejoin="round"/>
<path d="M329.80,1034.40 L336.22,1045.07 L348.35,1047.87 L340.19,1057.27 L341.26,1069.68 L329.80,1064.82 L318.34,1069.68 L319.41,1057.27 L311.25,1047.87 L323.38,1045.07Z" fill="url(#sg)" stroke="#e59b2c" stroke-width="1.3" stroke-linejoin="round"/>
<path d="M330.10,1036.90 L333.60,1046.40 L331.00,1045.70 Z" fill="#ffdf6a" opacity="0.9"/>
<path d="M346.30,1048.90 L337.60,1056.10 L338.40,1052.70 Z" fill="#d68510" opacity="0.9"/>
<path d="M371.18,1034.40 L377.59,1045.07 L389.72,1047.87 L381.56,1057.27 L382.64,1069.68 L371.18,1064.82 L359.71,1069.68 L360.79,1057.27 L352.63,1047.87 L364.76,1045.07Z" fill="none" stroke="#6a5234" stroke-opacity="0.35" stroke-width="2.8" stroke-linejoin="round"/>
<path d="M371.18,1034.40 L377.59,1045.07 L389.72,1047.87 L381.56,1057.27 L382.64,1069.68 L371.18,1064.82 L359.71,1069.68 L360.79,1057.27 L352.63,1047.87 L364.76,1045.07Z" fill="url(#sg)" stroke="#e59b2c" stroke-width="1.3" stroke-linejoin="round"/>
<path d="M371.48,1036.90 L374.98,1046.40 L372.38,1045.70 Z" fill="#ffdf6a" opacity="0.9"/>
<path d="M387.68,1048.90 L378.98,1056.10 L379.78,1052.70 Z" fill="#d68510" opacity="0.9"/>
<path d="M412.55,1034.40 L418.97,1045.07 L431.10,1047.87 L422.94,1057.27 L424.01,1069.68 L412.55,1064.82 L401.09,1069.68 L402.16,1057.27 L394.00,1047.87 L406.13,1045.07Z" fill="none" stroke="#6a5234" stroke-opacity="0.35" stroke-width="2.8" stroke-linejoin="round"/>
<path d="M412.55,1034.40 L418.97,1045.07 L431.10,1047.87 L422.94,1057.27 L424.01,1069.68 L412.55,1064.82 L401.09,1069.68 L402.16,1057.27 L394.00,1047.87 L406.13,1045.07Z" fill="url(#sg)" stroke="#e59b2c" stroke-width="1.3" stroke-linejoin="round"/>
<path d="M412.85,1036.90 L416.35,1046.40 L413.75,1045.70 Z" fill="#ffdf6a" opacity="0.9"/>
<path d="M429.05,1048.90 L420.35,1056.10 L421.15,1052.70 Z" fill="#d68510" opacity="0.9"/>
<path d="M453.93,1034.40 L460.34,1045.07 L472.47,1047.87 L464.31,1057.27 L465.39,1069.68 L453.93,1064.82 L442.46,1069.68 L443.54,1057.27 L435.38,1047.87 L447.51,1045.07Z" fill="none" stroke="#6a5234" stroke-opacity="0.35" stroke-width="2.8" stroke-linejoin="round"/>
<path d="M453.93,1034.40 L460.34,1045.07 L472.47,1047.87 L464.31,1057.27 L465.39,1069.68 L453.93,1064.82 L442.46,1069.68 L443.54,1057.27 L435.38,1047.87 L447.51,1045.07Z" fill="url(#sg)" stroke="#e59b2c" stroke-width="1.3" stroke-linejoin="round"/>
<path d="M454.23,1036.90 L457.73,1046.40 L455.12,1045.70 Z" fill="#ffdf6a" opacity="0.9"/>
<path d="M470.43,1048.90 L461.73,1056.10 L462.53,1052.70 Z" fill="#d68510" opacity="0.9"/>
<path d="M495.30,1034.40 L501.72,1045.07 L513.85,1047.87 L505.69,1057.27 L506.76,1069.68 L495.30,1064.82 L483.84,1069.68 L484.91,1057.27 L476.75,1047.87 L488.88,1045.07Z" fill="none" stroke="#6a5234" stroke-opacity="0.35" stroke-width="2.8" stroke-linejoin="round"/>
<path d="M495.30,1034.40 L501.72,1045.07 L513.85,1047.87 L505.69,1057.27 L506.76,1069.68 L495.30,1064.82 L483.84,1069.68 L484.91,1057.27 L476.75,1047.87 L488.88,1045.07Z" fill="url(#sg)" stroke="#e59b2c" stroke-width="1.3" stroke-linejoin="round"/>
<path d="M495.60,1036.90 L499.10,1046.40 L496.50,1045.70 Z" fill="#ffdf6a" opacity="0.9"/>
<path d="M511.80,1048.90 L503.10,1056.10 L503.90,1052.70 Z" fill="#d68510" opacity="0.9"/>
<path d="M643.00,1034.40 L649.42,1045.07 L661.55,1047.87 L653.39,1057.27 L654.46,1069.68 L643.00,1064.82 L631.54,1069.68 L632.61,1057.27 L624.45,1047.87 L636.58,1045.07Z" fill="none" stroke="#6a5234" stroke-opacity="0.35" stroke-width="2.8" stroke-linejoin="round"/>
<path d="M643.00,1034.40 L649.42,1045.07 L661.55,1047.87 L653.39,1057.27 L654.46,1069.68 L643.00,1064.82 L631.54,1069.68 L632.61,1057.27 L624.45,1047.87 L636.58,1045.07Z" fill="url(#sg)" stroke="#e59b2c" stroke-width="1.3" stroke-linejoin="round"/>
<path d="M643.30,1036.90 L646.80,1046.40 L644.20,1045.70 Z" fill="#ffdf6a" opacity="0.9"/>
<path d="M659.50,1048.90 L650.80,1056.10 L651.60,1052.70 Z" fill="#d68510" opacity="0.9"/>
<path d="M684.58,1034.40 L690.99,1045.07 L703.12,1047.87 L694.96,1057.27 L696.04,1069.68 L684.58,1064.82 L673.11,1069.68 L674.19,1057.27 L666.03,1047.87 L678.16,1045.07Z" fill="none" stroke="#6a5234" stroke-opacity="0.35" stroke-width="2.8" stroke-linejoin="round"/>
<path d="M684.58,1034.40 L690.99,1045.07 L703.12,1047.87 L694.96,1057.27 L696.04,1069.68 L684.58,1064.82 L673.11,1069.68 L674.19,1057.27 L666.03,1047.87 L678.16,1045.07Z" fill="url(#sg)" stroke="#e59b2c" stroke-width="1.3" stroke-linejoin="round"/>
<path d="M684.88,1036.90 L688.38,1046.40 L685.78,1045.70 Z" fill="#ffdf6a" opacity="0.9"/>
<path d="M701.08,1048.90 L692.38,1056.10 L693.18,1052.70 Z" fill="#d68510" opacity="0.9"/>
<path d="M726.15,1034.40 L732.57,1045.07 L744.70,1047.87 L736.54,1057.27 L737.61,1069.68 L726.15,1064.82 L714.69,1069.68 L715.76,1057.27 L707.60,1047.87 L719.73,1045.07Z" fill="none" stroke="#6a5234" stroke-opacity="0.35" stroke-width="2.8" stroke-linejoin="round"/>
<path d="M726.15,1034.40 L732.57,1045.07 L744.70,1047.87 L736.54,1057.27 L737.61,1069.68 L726.15,1064.82 L714.69,1069.68 L715.76,1057.27 L707.60,1047.87 L719.73,1045.07Z" fill="url(#sg)" stroke="#e59b2c" stroke-width="1.3" stroke-linejoin="round"/>
<path d="M726.45,1036.90 L729.95,1046.40 L727.35,1045.70 Z" fill="#ffdf6a" opacity="0.9"/>
<path d="M742.65,1048.90 L733.95,1056.10 L734.75,1052.70 Z" fill="#d68510" opacity="0.9"/>
<path d="M767.72,1036.30 L772.99,1046.96 L784.75,1048.67 L776.24,1056.97 L778.25,1068.68 L767.72,1063.15 L757.20,1068.68 L759.21,1056.97 L750.70,1048.67 L762.46,1046.96Z" fill="none" stroke="#f0b54e" stroke-width="2.0" stroke-linejoin="miter"/>
<path d="M809.30,1036.30 L814.56,1046.96 L826.32,1048.67 L817.81,1056.97 L819.82,1068.68 L809.30,1063.15 L798.78,1068.68 L800.79,1056.97 L792.28,1048.67 L804.04,1046.96Z" fill="none" stroke="#f0b54e" stroke-width="2.0" stroke-linejoin="miter"/>
<path d="M929.30,1034.60 L935.72,1045.27 L947.85,1048.07 L939.69,1057.47 L940.76,1069.88 L929.30,1065.02 L917.84,1069.88 L918.91,1057.47 L910.75,1048.07 L922.88,1045.27Z" fill="none" stroke="#6a5234" stroke-opacity="0.35" stroke-width="2.8" stroke-linejoin="round"/>
<path d="M929.30,1034.60 L935.72,1045.27 L947.85,1048.07 L939.69,1057.47 L940.76,1069.88 L929.30,1065.02 L917.84,1069.88 L918.91,1057.47 L910.75,1048.07 L922.88,1045.27Z" fill="url(#sg)" stroke="#e59b2c" stroke-width="1.3" stroke-linejoin="round"/>
<path d="M929.60,1037.10 L933.10,1046.60 L930.50,1045.90 Z" fill="#ffdf6a" opacity="0.9"/>
<path d="M945.80,1049.10 L937.10,1056.30 L937.90,1052.90 Z" fill="#d68510" opacity="0.9"/>
<path d="M970.72,1034.60 L977.14,1045.27 L989.27,1048.07 L981.11,1057.47 L982.19,1069.88 L970.72,1065.02 L959.26,1069.88 L960.34,1057.47 L952.18,1048.07 L964.31,1045.27Z" fill="none" stroke="#6a5234" stroke-opacity="0.35" stroke-width="2.8" stroke-linejoin="round"/>
<path d="M970.72,1034.60 L977.14,1045.27 L989.27,1048.07 L981.11,1057.47 L982.19,1069.88 L970.72,1065.02 L959.26,1069.88 L960.34,1057.47 L952.18,1048.07 L964.31,1045.27Z" fill="url(#sg)" stroke="#e59b2c" stroke-width="1.3" stroke-linejoin="round"/>
<path d="M971.02,1037.10 L974.52,1046.60 L971.92,1045.90 Z" fill="#ffdf6a" opacity="0.9"/>
<path d="M987.22,1049.10 L978.52,1056.30 L979.32,1052.90 Z" fill="#d68510" opacity="0.9"/>
<path d="M1012.15,1034.60 L1018.57,1045.27 L1030.70,1048.07 L1022.54,1057.47 L1023.61,1069.88 L1012.15,1065.02 L1000.69,1069.88 L1001.76,1057.47 L993.60,1048.07 L1005.73,1045.27Z" fill="none" stroke="#6a5234" stroke-opacity="0.35" stroke-width="2.8" stroke-linejoin="round"/>
<path d="M1012.15,1034.60 L1018.57,1045.27 L1030.70,1048.07 L1022.54,1057.47 L1023.61,1069.88 L1012.15,1065.02 L1000.69,1069.88 L1001.76,1057.47 L993.60,1048.07 L1005.73,1045.27Z" fill="url(#sg)" stroke="#e59b2c" stroke-width="1.3" stroke-linejoin="round"/>
<path d="M1012.45,1037.10 L1015.95,1046.60 L1013.35,1045.90 Z" fill="#ffdf6a" opacity="0.9"/>
<path d="M1028.65,1049.10 L1019.95,1056.30 L1020.75,1052.90 Z" fill="#d68510" opacity="0.9"/>
<path d="M1053.58,1034.60 L1059.99,1045.27 L1072.12,1048.07 L1063.96,1057.47 L1065.04,1069.88 L1053.58,1065.02 L1042.11,1069.88 L1043.19,1057.47 L1035.03,1048.07 L1047.16,1045.27Z" fill="none" stroke="#6a5234" stroke-opacity="0.35" stroke-width="2.8" stroke-linejoin="round"/>
<path d="M1053.58,1034.60 L1059.99,1045.27 L1072.12,1048.07 L1063.96,1057.47 L1065.04,1069.88 L1053.58,1065.02 L1042.11,1069.88 L1043.19,1057.47 L1035.03,1048.07 L1047.16,1045.27Z" fill="url(#sg)" stroke="#e59b2c" stroke-width="1.3" stroke-linejoin="round"/>
<path d="M1053.88,1037.10 L1057.38,1046.60 L1054.78,1045.90 Z" fill="#ffdf6a" opacity="0.9"/>
<path d="M1070.08,1049.10 L1061.38,1056.30 L1062.17,1052.90 Z" fill="#d68510" opacity="0.9"/>
<path d="M1095.00,1036.50 L1100.26,1047.16 L1112.02,1048.87 L1103.51,1057.17 L1105.52,1068.88 L1095.00,1063.35 L1084.48,1068.88 L1086.49,1057.17 L1077.98,1048.87 L1089.74,1047.16Z" fill="none" stroke="#f0b54e" stroke-width="2.0" stroke-linejoin="miter"/>
<path d="M1213.70,1034.00 L1220.12,1044.67 L1232.25,1047.47 L1224.09,1056.87 L1225.16,1069.28 L1213.70,1064.42 L1202.24,1069.28 L1203.31,1056.87 L1195.15,1047.47 L1207.28,1044.67Z" fill="none" stroke="#6a5234" stroke-opacity="0.35" stroke-width="2.8" stroke-linejoin="round"/>
<path d="M1213.70,1034.00 L1220.12,1044.67 L1232.25,1047.47 L1224.09,1056.87 L1225.16,1069.28 L1213.70,1064.42 L1202.24,1069.28 L1203.31,1056.87 L1195.15,1047.47 L1207.28,1044.67Z" fill="url(#sg)" stroke="#e59b2c" stroke-width="1.3" stroke-linejoin="round"/>
<path d="M1214.00,1036.50 L1217.50,1046.00 L1214.90,1045.30 Z" fill="#ffdf6a" opacity="0.9"/>
<path d="M1230.20,1048.50 L1221.50,1055.70 L1222.30,1052.30 Z" fill="#d68510" opacity="0.9"/>
<path d="M1255.65,1034.00 L1262.07,1044.67 L1274.20,1047.47 L1266.04,1056.87 L1267.11,1069.28 L1255.65,1064.42 L1244.19,1069.28 L1245.26,1056.87 L1237.10,1047.47 L1249.23,1044.67Z" fill="none" stroke="#6a5234" stroke-opacity="0.35" stroke-width="2.8" stroke-linejoin="round"/>
<path d="M1255.65,1034.00 L1262.07,1044.67 L1274.20,1047.47 L1266.04,1056.87 L1267.11,1069.28 L1255.65,1064.42 L1244.19,1069.28 L1245.26,1056.87 L1237.10,1047.47 L1249.23,1044.67Z" fill="url(#sg)" stroke="#e59b2c" stroke-width="1.3" stroke-linejoin="round"/>
<path d="M1255.95,1036.50 L1259.45,1046.00 L1256.85,1045.30 Z" fill="#ffdf6a" opacity="0.9"/>
<path d="M1272.15,1048.50 L1263.45,1055.70 L1264.25,1052.30 Z" fill="#d68510" opacity="0.9"/>
<path d="M1297.60,1035.90 L1302.86,1046.56 L1314.62,1048.27 L1306.11,1056.57 L1308.12,1068.28 L1297.60,1062.75 L1287.08,1068.28 L1289.09,1056.57 L1280.58,1048.27 L1292.34,1046.56Z" fill="none" stroke="#ea9a5a" stroke-width="2.0" stroke-linejoin="miter"/>
<path d="M1339.55,1035.90 L1344.81,1046.56 L1356.57,1048.27 L1348.06,1056.57 L1350.07,1068.28 L1339.55,1062.75 L1329.03,1068.28 L1331.04,1056.57 L1322.53,1048.27 L1334.29,1046.56Z" fill="none" stroke="#ea9a5a" stroke-width="2.0" stroke-linejoin="miter"/>
<path d="M1381.50,1035.90 L1386.76,1046.56 L1398.52,1048.27 L1390.01,1056.57 L1392.02,1068.28 L1381.50,1062.75 L1370.98,1068.28 L1372.99,1056.57 L1364.48,1048.27 L1376.24,1046.56Z" fill="none" stroke="#ea9a5a" stroke-width="2.0" stroke-linejoin="miter"/>
<path d="M329.80,1234.30 L336.22,1244.97 L348.35,1247.77 L340.19,1257.17 L341.26,1269.58 L329.80,1264.72 L318.34,1269.58 L319.41,1257.17 L311.25,1247.77 L323.38,1244.97Z" fill="none" stroke="#6a5234" stroke-opacity="0.35" stroke-width="2.8" stroke-linejoin="round"/>
<path d="M329.80,1234.30 L336.22,1244.97 L348.35,1247.77 L340.19,1257.17 L341.26,1269.58 L329.80,1264.72 L318.34,1269.58 L319.41,1257.17 L311.25,1247.77 L323.38,1244.97Z" fill="url(#sg)" stroke="#e59b2c" stroke-width="1.3" stroke-linejoin="round"/>
<path d="M330.10,1236.80 L333.60,1246.30 L331.00,1245.60 Z" fill="#ffdf6a" opacity="0.9"/>
<path d="M346.30,1248.80 L337.60,1256.00 L338.40,1252.60 Z" fill="#d68510" opacity="0.9"/>
<path d="M371.18,1234.30 L377.59,1244.97 L389.72,1247.77 L381.56,1257.17 L382.64,1269.58 L371.18,1264.72 L359.71,1269.58 L360.79,1257.17 L352.63,1247.77 L364.76,1244.97Z" fill="none" stroke="#6a5234" stroke-opacity="0.35" stroke-width="2.8" stroke-linejoin="round"/>
<path d="M371.18,1234.30 L377.59,1244.97 L389.72,1247.77 L381.56,1257.17 L382.64,1269.58 L371.18,1264.72 L359.71,1269.58 L360.79,1257.17 L352.63,1247.77 L364.76,1244.97Z" fill="url(#sg)" stroke="#e59b2c" stroke-width="1.3" stroke-linejoin="round"/>
<path d="M371.48,1236.80 L374.98,1246.30 L372.38,1245.60 Z" fill="#ffdf6a" opacity="0.9"/>
<path d="M387.68,1248.80 L378.98,1256.00 L379.78,1252.60 Z" fill="#d68510" opacity="0.9"/>
<path d="M412.55,1234.30 L418.97,1244.97 L431.10,1247.77 L422.94,1257.17 L424.01,1269.58 L412.55,1264.72 L401.09,1269.58 L402.16,1257.17 L394.00,1247.77 L406.13,1244.97Z" fill="none" stroke="#6a5234" stroke-opacity="0.35" stroke-width="2.8" stroke-linejoin="round"/>
<path d="M412.55,1234.30 L418.97,1244.97 L431.10,1247.77 L422.94,1257.17 L424.01,1269.58 L412.55,1264.72 L401.09,1269.58 L402.16,1257.17 L394.00,1247.77 L406.13,1244.97Z" fill="url(#sg)" stroke="#e59b2c" stroke-width="1.3" stroke-linejoin="round"/>
<path d="M412.85,1236.80 L416.35,1246.30 L413.75,1245.60 Z" fill="#ffdf6a" opacity="0.9"/>
<path d="M429.05,1248.80 L420.35,1256.00 L421.15,1252.60 Z" fill="#d68510" opacity="0.9"/>
<path d="M453.93,1234.30 L460.34,1244.97 L472.47,1247.77 L464.31,1257.17 L465.39,1269.58 L453.93,1264.72 L442.46,1269.58 L443.54,1257.17 L435.38,1247.77 L447.51,1244.97Z" fill="none" stroke="#6a5234" stroke-opacity="0.35" stroke-width="2.8" stroke-linejoin="round"/>
<path d="M453.93,1234.30 L460.34,1244.97 L472.47,1247.77 L464.31,1257.17 L465.39,1269.58 L453.93,1264.72 L442.46,1269.58 L443.54,1257.17 L435.38,1247.77 L447.51,1244.97Z" fill="url(#sg)" stroke="#e59b2c" stroke-width="1.3" stroke-linejoin="round"/>
<path d="M454.23,1236.80 L457.73,1246.30 L455.12,1245.60 Z" fill="#ffdf6a" opacity="0.9"/>
<path d="M470.43,1248.80 L461.73,1256.00 L462.53,1252.60 Z" fill="#d68510" opacity="0.9"/>
<path d="M495.30,1234.30 L501.72,1244.97 L513.85,1247.77 L505.69,1257.17 L506.76,1269.58 L495.30,1264.72 L483.84,1269.58 L484.91,1257.17 L476.75,1247.77 L488.88,1244.97Z" fill="none" stroke="#6a5234" stroke-opacity="0.35" stroke-width="2.8" stroke-linejoin="round"/>
<path d="M495.30,1234.30 L501.72,1244.97 L513.85,1247.77 L505.69,1257.17 L506.76,1269.58 L495.30,1264.72 L483.84,1269.58 L484.91,1257.17 L476.75,1247.77 L488.88,1244.97Z" fill="url(#sg)" stroke="#e59b2c" stroke-width="1.3" stroke-linejoin="round"/>
<path d="M495.60,1236.80 L499.10,1246.30 L496.50,1245.60 Z" fill="#ffdf6a" opacity="0.9"/>
<path d="M511.80,1248.80 L503.10,1256.00 L503.90,1252.60 Z" fill="#d68510" opacity="0.9"/>
<path d="M643.00,1234.30 L649.42,1244.97 L661.55,1247.77 L653.39,1257.17 L654.46,1269.58 L643.00,1264.72 L631.54,1269.58 L632.61,1257.17 L624.45,1247.77 L636.58,1244.97Z" fill="none" stroke="#6a5234" stroke-opacity="0.35" stroke-width="2.8" stroke-linejoin="round"/>
<path d="M643.00,1234.30 L649.42,1244.97 L661.55,1247.77 L653.39,1257.17 L654.46,1269.58 L643.00,1264.72 L631.54,1269.58 L632.61,1257.17 L624.45,1247.77 L636.58,1244.97Z" fill="url(#sg)" stroke="#e59b2c" stroke-width="1.3" stroke-linejoin="round"/>
<path d="M643.30,1236.80 L646.80,1246.30 L644.20,1245.60 Z" fill="#ffdf6a" opacity="0.9"/>
<path d="M659.50,1248.80 L650.80,1256.00 L651.60,1252.60 Z" fill="#d68510" opacity="0.9"/>
<path d="M684.58,1234.30 L690.99,1244.97 L703.12,1247.77 L694.96,1257.17 L696.04,1269.58 L684.58,1264.72 L673.11,1269.58 L674.19,1257.17 L666.03,1247.77 L678.16,1244.97Z" fill="none" stroke="#6a5234" stroke-opacity="0.35" stroke-width="2.8" stroke-linejoin="round"/>
<path d="M684.58,1234.30 L690.99,1244.97 L703.12,1247.77 L694.96,1257.17 L696.04,1269.58 L684.58,1264.72 L673.11,1269.58 L674.19,1257.17 L666.03,1247.77 L678.16,1244.97Z" fill="url(#sg)" stroke="#e59b2c" stroke-width="1.3" stroke-linejoin="round"/>
<path d="M684.88,1236.80 L688.38,1246.30 L685.78,1245.60 Z" fill="#ffdf6a" opacity="0.9"/>
<path d="M701.08,1248.80 L692.38,1256.00 L693.18,1252.60 Z" fill="#d68510" opacity="0.9"/>
<path d="M726.15,1234.30 L732.57,1244.97 L744.70,1247.77 L736.54,1257.17 L737.61,1269.58 L726.15,1264.72 L714.69,1269.58 L715.76,1257.17 L707.60,1247.77 L719.73,1244.97Z" fill="none" stroke="#6a5234" stroke-opacity="0.35" stroke-width="2.8" stroke-linejoin="round"/>
<path d="M726.15,1234.30 L732.57,1244.97 L744.70,1247.77 L736.54,1257.17 L737.61,1269.58 L726.15,1264.72 L714.69,1269.58 L715.76,1257.17 L707.60,1247.77 L719.73,1244.97Z" fill="url(#sg)" stroke="#e59b2c" stroke-width="1.3" stroke-linejoin="round"/>
<path d="M726.45,1236.80 L729.95,1246.30 L727.35,1245.60 Z" fill="#ffdf6a" opacity="0.9"/>
<path d="M742.65,1248.80 L733.95,1256.00 L734.75,1252.60 Z" fill="#d68510" opacity="0.9"/>
<path d="M767.72,1234.30 L774.14,1244.97 L786.27,1247.77 L778.11,1257.17 L779.19,1269.58 L767.72,1264.72 L756.26,1269.58 L757.34,1257.17 L749.18,1247.77 L761.31,1244.97Z" fill="none" stroke="#6a5234" stroke-opacity="0.35" stroke-width="2.8" stroke-linejoin="round"/>
<path d="M767.72,1234.30 L774.14,1244.97 L786.27,1247.77 L778.11,1257.17 L779.19,1269.58 L767.72,1264.72 L756.26,1269.58 L757.34,1257.17 L749.18,1247.77 L761.31,1244.97Z" fill="url(#sg)" stroke="#e59b2c" stroke-width="1.3" stroke-linejoin="round"/>
<path d="M768.02,1236.80 L771.52,1246.30 L768.92,1245.60 Z" fill="#ffdf6a" opacity="0.9"/>
<path d="M784.22,1248.80 L775.52,1256.00 L776.32,1252.60 Z" fill="#d68510" opacity="0.9"/>
<path d="M809.30,1236.20 L814.56,1246.86 L826.32,1248.57 L817.81,1256.87 L819.82,1268.58 L809.30,1263.05 L798.78,1268.58 L800.79,1256.87 L792.28,1248.57 L804.04,1246.86Z" fill="none" stroke="#f0b54e" stroke-width="2.0" stroke-linejoin="miter"/>
<path d="M929.30,1234.30 L935.72,1244.97 L947.85,1247.77 L939.69,1257.17 L940.76,1269.58 L929.30,1264.72 L917.84,1269.58 L918.91,1257.17 L910.75,1247.77 L922.88,1244.97Z" fill="none" stroke="#6a5234" stroke-opacity="0.35" stroke-width="2.8" stroke-linejoin="round"/>
<path d="M929.30,1234.30 L935.72,1244.97 L947.85,1247.77 L939.69,1257.17 L940.76,1269.58 L929.30,1264.72 L917.84,1269.58 L918.91,1257.17 L910.75,1247.77 L922.88,1244.97Z" fill="url(#sg)" stroke="#e59b2c" stroke-width="1.3" stroke-linejoin="round"/>
<path d="M929.60,1236.80 L933.10,1246.30 L930.50,1245.60 Z" fill="#ffdf6a" opacity="0.9"/>
<path d="M945.80,1248.80 L937.10,1256.00 L937.90,1252.60 Z" fill="#d68510" opacity="0.9"/>
<path d="M970.72,1234.30 L977.14,1244.97 L989.27,1247.77 L981.11,1257.17 L982.19,1269.58 L970.72,1264.72 L959.26,1269.58 L960.34,1257.17 L952.18,1247.77 L964.31,1244.97Z" fill="none" stroke="#6a5234" stroke-opacity="0.35" stroke-width="2.8" stroke-linejoin="round"/>
<path d="M970.72,1234.30 L977.14,1244.97 L989.27,1247.77 L981.11,1257.17 L982.19,1269.58 L970.72,1264.72 L959.26,1269.58 L960.34,1257.17 L952.18,1247.77 L964.31,1244.97Z" fill="url(#sg)" stroke="#e59b2c" stroke-width="1.3" stroke-linejoin="round"/>
<path d="M971.02,1236.80 L974.52,1246.30 L971.92,1245.60 Z" fill="#ffdf6a" opacity="0.9"/>
<path d="M987.22,1248.80 L978.52,1256.00 L979.32,1252.60 Z" fill="#d68510" opacity="0.9"/>
<path d="M1012.15,1234.30 L1018.57,1244.97 L1030.70,1247.77 L1022.54,1257.17 L1023.61,1269.58 L1012.15,1264.72 L1000.69,1269.58 L1001.76,1257.17 L993.60,1247.77 L1005.73,1244.97Z" fill="none" stroke="#6a5234" stroke-opacity="0.35" stroke-width="2.8" stroke-linejoin="round"/>
<path d="M1012.15,1234.30 L1018.57,1244.97 L1030.70,1247.77 L1022.54,1257.17 L1023.61,1269.58 L1012.15,1264.72 L1000.69,1269.58 L1001.76,1257.17 L993.60,1247.77 L1005.73,1244.97Z" fill="url(#sg)" stroke="#e59b2c" stroke-width="1.3" stroke-linejoin="round"/>
<path d="M1012.45,1236.80 L1015.95,1246.30 L1013.35,1245.60 Z" fill="#ffdf6a" opacity="0.9"/>
<path d="M1028.65,1248.80 L1019.95,1256.00 L1020.75,1252.60 Z" fill="#d68510" opacity="0.9"/>
<path d="M1053.58,1234.30 L1059.99,1244.97 L1072.12,1247.77 L1063.96,1257.17 L1065.04,1269.58 L1053.58,1264.72 L1042.11,1269.58 L1043.19,1257.17 L1035.03,1247.77 L1047.16,1244.97Z" fill="none" stroke="#6a5234" stroke-opacity="0.35" stroke-width="2.8" stroke-linejoin="round"/>
<path d="M1053.58,1234.30 L1059.99,1244.97 L1072.12,1247.77 L1063.96,1257.17 L1065.04,1269.58 L1053.58,1264.72 L1042.11,1269.58 L1043.19,1257.17 L1035.03,1247.77 L1047.16,1244.97Z" fill="url(#sg)" stroke="#e59b2c" stroke-width="1.3" stroke-linejoin="round"/>
<path d="M1053.88,1236.80 L1057.38,1246.30 L1054.78,1245.60 Z" fill="#ffdf6a" opacity="0.9"/>
<path d="M1070.08,1248.80 L1061.38,1256.00 L1062.17,1252.60 Z" fill="#d68510" opacity="0.9"/>
<path d="M1095.00,1236.20 L1100.26,1246.86 L1112.02,1248.57 L1103.51,1256.87 L1105.52,1268.58 L1095.00,1263.05 L1084.48,1268.58 L1086.49,1256.87 L1077.98,1248.57 L1089.74,1246.86Z" fill="none" stroke="#f0b54e" stroke-width="2.0" stroke-linejoin="miter"/>
<path d="M1213.70,1234.30 L1220.12,1244.97 L1232.25,1247.77 L1224.09,1257.17 L1225.16,1269.58 L1213.70,1264.72 L1202.24,1269.58 L1203.31,1257.17 L1195.15,1247.77 L1207.28,1244.97Z" fill="none" stroke="#6a5234" stroke-opacity="0.35" stroke-width="2.8" stroke-linejoin="round"/>
<path d="M1213.70,1234.30 L1220.12,1244.97 L1232.25,1247.77 L1224.09,1257.17 L1225.16,1269.58 L1213.70,1264.72 L1202.24,1269.58 L1203.31,1257.17 L1195.15,1247.77 L1207.28,1244.97Z" fill="url(#sg)" stroke="#e59b2c" stroke-width="1.3" stroke-linejoin="round"/>
<path d="M1214.00,1236.80 L1217.50,1246.30 L1214.90,1245.60 Z" fill="#ffdf6a" opacity="0.9"/>
<path d="M1230.20,1248.80 L1221.50,1256.00 L1222.30,1252.60 Z" fill="#d68510" opacity="0.9"/>
<path d="M1255.65,1234.30 L1262.07,1244.97 L1274.20,1247.77 L1266.04,1257.17 L1267.11,1269.58 L1255.65,1264.72 L1244.19,1269.58 L1245.26,1257.17 L1237.10,1247.77 L1249.23,1244.97Z" fill="none" stroke="#6a5234" stroke-opacity="0.35" stroke-width="2.8" stroke-linejoin="round"/>
<path d="M1255.65,1234.30 L1262.07,1244.97 L1274.20,1247.77 L1266.04,1257.17 L1267.11,1269.58 L1255.65,1264.72 L1244.19,1269.58 L1245.26,1257.17 L1237.10,1247.77 L1249.23,1244.97Z" fill="url(#sg)" stroke="#e59b2c" stroke-width="1.3" stroke-linejoin="round"/>
<path d="M1255.95,1236.80 L1259.45,1246.30 L1256.85,1245.60 Z" fill="#ffdf6a" opacity="0.9"/>
<path d="M1272.15,1248.80 L1263.45,1256.00 L1264.25,1252.60 Z" fill="#d68510" opacity="0.9"/>
<path d="M1297.60,1234.30 L1304.02,1244.97 L1316.15,1247.77 L1307.99,1257.17 L1309.06,1269.58 L1297.60,1264.72 L1286.14,1269.58 L1287.21,1257.17 L1279.05,1247.77 L1291.18,1244.97Z" fill="none" stroke="#6a5234" stroke-opacity="0.35" stroke-width="2.8" stroke-linejoin="round"/>
<path d="M1297.60,1234.30 L1304.02,1244.97 L1316.15,1247.77 L1307.99,1257.17 L1309.06,1269.58 L1297.60,1264.72 L1286.14,1269.58 L1287.21,1257.17 L1279.05,1247.77 L1291.18,1244.97Z" fill="url(#sg)" stroke="#e59b2c" stroke-width="1.3" stroke-linejoin="round"/>
<path d="M1297.90,1236.80 L1301.40,1246.30 L1298.80,1245.60 Z" fill="#ffdf6a" opacity="0.9"/>
<path d="M1314.10,1248.80 L1305.40,1256.00 L1306.20,1252.60 Z" fill="#d68510" opacity="0.9"/>
<path d="M1339.55,1236.20 L1344.81,1246.86 L1356.57,1248.57 L1348.06,1256.87 L1350.07,1268.58 L1339.55,1263.05 L1329.03,1268.58 L1331.04,1256.87 L1322.53,1248.57 L1334.29,1246.86Z" fill="none" stroke="#ea9a5a" stroke-width="2.0" stroke-linejoin="miter"/>
<path d="M1381.50,1236.20 L1386.76,1246.86 L1398.52,1248.57 L1390.01,1256.87 L1392.02,1268.58 L1381.50,1263.05 L1370.98,1268.58 L1372.99,1256.87 L1364.48,1248.57 L1376.24,1246.86Z" fill="none" stroke="#ea9a5a" stroke-width="2.0" stroke-linejoin="miter"/>
</svg>
<div class="t" style="left:2.78px;top:-8.36px;font-family:'Liberation Serif',sans-serif;font-weight:700;font-size:79px;line-height:103px;color:#2b2a2d;transform:scaleX(1.0292)">WHY</div>
<div class="t" style="left:224.73px;top:-8.36px;font-family:'Liberation Serif',sans-serif;font-weight:700;font-size:79px;line-height:103px;color:#2b2a2d;transform:scaleX(1.0161)">CHOOSE</div>
<div class="t" style="left:582.39px;top:-8.36px;font-family:'Liberation Serif',sans-serif;font-weight:700;font-size:79px;line-height:103px;color:#2b2a2d;transform:scaleX(1.0212)">ALUMINIZED</div>
<div class="t" style="left:1133.87px;top:-8.36px;font-family:'Liberation Serif',sans-serif;font-weight:700;font-size:79px;line-height:103px;color:#2b2a2d;transform:scaleX(0.9818)">STEEL?</div>
<div class="t" style="left:18.04px;top:106.59px;font-family:'Liberation Sans',sans-serif;font-weight:400;font-size:54px;line-height:70px;color:#2b2a2c;-webkit-text-stroke:0.45px #fafaf3;transform:scaleX(0.9090)">A</div>
<div class="t" style="left:65.48px;top:106.59px;font-family:'Liberation Sans',sans-serif;font-weight:400;font-size:54px;line-height:70px;color:#2b2a2c;-webkit-text-stroke:0.45px #fafaf3;transform:scaleX(1.0269)">New</div>
<div class="t" style="left:190.46px;top:106.59px;font-family:'Liberation Sans',sans-serif;font-weight:400;font-size:54px;line-height:70px;color:#2b2a2c;-webkit-text-stroke:0.45px #fafaf3;transform:scaleX(1.0782)">Breakthrough</div>
<div class="t" style="left:554.18px;top:106.59px;font-family:'Liberation Sans',sans-serif;font-weight:400;font-size:54px;line-height:70px;color:#2b2a2c;-webkit-text-stroke:0.45px #fafaf3;transform:scaleX(1.1341)">in</div>
<div class="t" style="left:616.09px;top:106.59px;font-family:'Liberation Sans',sans-serif;font-weight:400;font-size:54px;line-height:70px;color:#2b2a2c;-webkit-text-stroke:0.45px #fafaf3;transform:scaleX(1.0228)">Bakeware</div>
<div class="t" style="left:54.98px;top:395.42px;font-family:'Liberation Sans',sans-serif;font-weight:700;font-size:34px;line-height:44px;color:#2b2a28;-webkit-text-stroke:0.5px #e4e2dc;transform:scaleX(1.0100)">Feature</div>
<div class="t" style="left:45.15px;top:672.33px;font-family:'Liberation Sans',sans-serif;font-weight:700;font-size:30.5px;line-height:40px;color:#2b2a28;-webkit-text-stroke:0.5px #e4e2dc;transform:scaleX(1.0218)">Durability</div>
<div class="t" style="left:40.23px;top:848.83px;font-family:'Liberation Sans',sans-serif;font-weight:700;font-size:30.5px;line-height:40px;color:#2b2a28;-webkit-text-stroke:0.5px #e4e2dc;transform:scaleX(0.9748)">Corrosion</div>
<div class="t" style="left:39.06px;top:884.83px;font-family:'Liberation Sans',sans-serif;font-weight:700;font-size:30.5px;line-height:40px;color:#2b2a28;-webkit-text-stroke:0.5px #e4e2dc;transform:scaleX(0.9598)">Resistance</div>
<div class="t" style="left:48.41px;top:1087.43px;font-family:'Liberation Sans',sans-serif;font-weight:700;font-size:30.5px;line-height:40px;color:#2b2a28;-webkit-text-stroke:0.5px #e4e2dc;transform:scaleX(0.9935)">Non-stick</div>
<div class="t" style="left:80.90px;top:1256.83px;font-family:'Liberation Sans',sans-serif;font-weight:700;font-size:30.5px;line-height:40px;color:#2b2a28;-webkit-text-stroke:0.5px #e4e2dc;transform:scaleX(1.0516)">Heat</div>
<div class="t" style="left:28.01px;top:1292.13px;font-family:'Liberation Sans',sans-serif;font-weight:700;font-size:30.5px;line-height:40px;color:#2b2a28;-webkit-text-stroke:0.5px #e4e2dc;transform:scaleX(0.9886)">Conductivity</div>
<div class="t" style="left:252.77px;top:516.14px;font-family:'Liberation Sans',sans-serif;font-weight:700;font-size:40px;line-height:52px;color:#fbf8f2;-webkit-text-stroke:0.5px #85796f;transform:scaleX(1.0184)">Aluminized Steel</div>
<div class="t" style="left:627.17px;top:516.14px;font-family:'Liberation Sans',sans-serif;font-weight:700;font-size:40px;line-height:52px;color:#2f2e2c;-webkit-text-stroke:0.5px #e4e2dc;transform:scaleX(1.0415)">Aluminum</div>
<div class="t" style="left:904.33px;top:516.14px;font-family:'Liberation Sans',sans-serif;font-weight:700;font-size:40px;line-height:52px;color:#2f2e2c;-webkit-text-stroke:0.5px #e4e2dc;transform:scaleX(0.9210)">Carbon Steel</div>
<div class="t" style="left:1225.40px;top:492.03px;font-family:'Liberation Sans',sans-serif;font-weight:700;font-size:36px;line-height:47px;color:#2f2e2c;-webkit-text-stroke:0.5px #e4e2dc;transform:scaleX(0.9949)">Stainless</div>
<div class="t" style="left:1260.53px;top:535.53px;font-family:'Liberation Sans',sans-serif;font-weight:700;font-size:36px;line-height:47px;color:#2f2e2c;-webkit-text-stroke:0.5px #e4e2dc;transform:scaleX(1.0449)">steel</div>
<div class="t" style="left:317.58px;top:680.44px;font-family:'Liberation Sans',sans-serif;font-weight:400;font-size:27.3px;line-height:35px;color:#f8f4ec;-webkit-text-stroke:0.6px #85796f;transform:scaleX(1.0073)">Highly durable,</div>
<div class="t" style="left:318.72px;top:712.24px;font-family:'Liberation Sans',sans-serif;font-weight:400;font-size:27.3px;line-height:35px;color:#f8f4ec;-webkit-text-stroke:0.6px #85796f;transform:scaleX(1.0326)">no deformation</div>
<div class="t" style="left:296.20px;top:879.44px;font-family:'Liberation Sans',sans-serif;font-weight:400;font-size:27.3px;line-height:35px;color:#f8f4ec;-webkit-text-stroke:0.6px #85796f;transform:scaleX(1.0009)">Corrosion-resistant,</div>
<div class="t" style="left:317.19px;top:911.24px;font-family:'Liberation Sans',sans-serif;font-weight:400;font-size:27.3px;line-height:35px;color:#f8f4ec;-webkit-text-stroke:0.6px #85796f;transform:scaleX(1.0102)">all environments</div>
<div class="t" style="left:314.42px;top:1090.04px;font-family:'Liberation Sans',sans-serif;font-weight:400;font-size:27.3px;line-height:35px;color:#f8f4ec;-webkit-text-stroke:0.6px #85796f;transform:scaleX(0.9817)">Ceramic coating,</div>
<div class="t" style="left:343.06px;top:1121.24px;font-family:'Liberation Sans',sans-serif;font-weight:400;font-size:27.3px;line-height:35px;color:#f8f4ec;-webkit-text-stroke:0.6px #85796f;transform:scaleX(0.9579)">easy release</div>
<div class="t" style="left:276.79px;top:1299.34px;font-family:'Liberation Sans',sans-serif;font-weight:400;font-size:27.3px;line-height:35px;color:#f8f4ec;-webkit-text-stroke:0.6px #85796f;transform:scaleX(1.0041)">Even heat distribution,</div>
<div class="t" style="left:321.19px;top:1330.54px;font-family:'Liberation Sans',sans-serif;font-weight:400;font-size:27.3px;line-height:35px;color:#f8f4ec;-webkit-text-stroke:0.6px #85796f;transform:scaleX(1.0141)">aluminum core</div>
<div class="t" style="left:611.96px;top:679.94px;font-family:'Liberation Sans',sans-serif;font-weight:400;font-size:27.3px;line-height:35px;color:#45443f;-webkit-text-stroke:0.6px #e4e2dc;transform:scaleX(1.0139)">Durable, but prone</div>
<div class="t" style="left:640.98px;top:711.44px;font-family:'Liberation Sans',sans-serif;font-weight:400;font-size:27.3px;line-height:35px;color:#45443f;-webkit-text-stroke:0.6px #e4e2dc;transform:scaleX(1.0349)">to deformation</div>
<div class="t" style="left:927.02px;top:692.84px;font-family:'Liberation Sans',sans-serif;font-weight:400;font-size:27.3px;line-height:35px;color:#45443f;-webkit-text-stroke:0.6px #e4e2dc;transform:scaleX(0.9895)">Fairly durable</div>
<div class="t" style="left:1204.43px;top:677.44px;font-family:'Liberation Sans',sans-serif;font-weight:400;font-size:27.3px;line-height:35px;color:#45443f;-webkit-text-stroke:0.6px #e4e2dc;transform:scaleX(0.9891)">Fair at resisting</div>
<div class="t" style="left:1239.40px;top:709.44px;font-family:'Liberation Sans',sans-serif;font-weight:400;font-size:27.3px;line-height:35px;color:#45443f;-webkit-text-stroke:0.6px #e4e2dc;transform:scaleX(0.9828)">scratches</div>
<div class="t" style="left:615.36px;top:879.94px;font-family:'Liberation Sans',sans-serif;font-weight:400;font-size:27.3px;line-height:35px;color:#45443f;-webkit-text-stroke:0.6px #e4e2dc;transform:scaleX(1.0194)">Prone to oxidation</div>
<div class="t" style="left:625.99px;top:911.44px;font-family:'Liberation Sans',sans-serif;font-weight:400;font-size:27.3px;line-height:35px;color:#45443f;-webkit-text-stroke:0.6px #e4e2dc;transform:scaleX(1.0132)">and discoloration</div>
<div class="t" style="left:899.03px;top:876.94px;font-family:'Liberation Sans',sans-serif;font-weight:400;font-size:27.3px;line-height:35px;color:#45443f;-webkit-text-stroke:0.6px #e4e2dc;transform:scaleX(0.9865)">Rust-prone, needs</div>
<div class="t" style="left:883.98px;top:907.94px;font-family:'Liberation Sans',sans-serif;font-weight:400;font-size:27.3px;line-height:35px;color:#45443f;-webkit-text-stroke:0.6px #e4e2dc;transform:scaleX(1.0122)">regular maintenance</div>
<div class="t" style="left:1244.68px;top:879.54px;font-family:'Liberation Sans',sans-serif;font-weight:400;font-size:27.3px;line-height:35px;color:#45443f;-webkit-text-stroke:0.6px #e4e2dc;transform:scaleX(0.9677)">Rust and</div>
<div class="t" style="left:1200.39px;top:911.14px;font-family:'Liberation Sans',sans-serif;font-weight:400;font-size:27.3px;line-height:35px;color:#45443f;-webkit-text-stroke:0.6px #e4e2dc;transform:scaleX(1.0042)">Corrosion-Proof</div>
<div class="t" style="left:622.27px;top:1106.34px;font-family:'Liberation Sans',sans-serif;font-weight:400;font-size:27.3px;line-height:35px;color:#45443f;-webkit-text-stroke:0.6px #e4e2dc;transform:scaleX(0.9594)">Food sticks easily</div>
<div class="t" style="left:881.39px;top:1106.94px;font-family:'Liberation Sans',sans-serif;font-weight:400;font-size:27.3px;line-height:35px;color:#45443f;-webkit-text-stroke:0.6px #e4e2dc;transform:scaleX(1.0028)">Moderately non-stick</div>
<div class="t" style="left:1194.48px;top:1087.04px;font-family:'Liberation Sans',sans-serif;font-weight:400;font-size:27.3px;line-height:35px;color:#45443f;-webkit-text-stroke:0.6px #e4e2dc;transform:scaleX(0.9645)">Food sticks easier</div>
<div class="t" style="left:1202.61px;top:1118.64px;font-family:'Liberation Sans',sans-serif;font-weight:400;font-size:27.3px;line-height:35px;color:#45443f;-webkit-text-stroke:0.6px #e4e2dc;transform:scaleX(0.9820)">to stainless steel</div>
<div class="t" style="left:642.67px;top:1280.04px;font-family:'Liberation Sans',sans-serif;font-weight:400;font-size:27.3px;line-height:35px;color:#45443f;-webkit-text-stroke:0.6px #e4e2dc;transform:scaleX(0.9740)">Excellent heat</div>
<div class="t" style="left:655.98px;top:1311.24px;font-family:'Liberation Sans',sans-serif;font-weight:400;font-size:27.3px;line-height:35px;color:#45443f;-webkit-text-stroke:0.6px #e4e2dc;transform:scaleX(1.0133)">conduction,</div>
<div class="t" style="left:656.21px;top:1343.24px;font-family:'Liberation Sans',sans-serif;font-weight:400;font-size:27.3px;line-height:35px;color:#45443f;-webkit-text-stroke:0.6px #e4e2dc;transform:scaleX(0.9910)">even baking</div>
<div class="t" style="left:872.99px;top:1283.14px;font-family:'Liberation Sans',sans-serif;font-weight:400;font-size:27.3px;line-height:35px;color:#45443f;-webkit-text-stroke:0.6px #e4e2dc;transform:scaleX(1.0074)">Good heat conduction,</div>
<div class="t" style="left:912.95px;top:1315.34px;font-family:'Liberation Sans',sans-serif;font-weight:400;font-size:27.3px;line-height:35px;color:#45443f;-webkit-text-stroke:0.6px #e4e2dc;transform:scaleX(1.0270)">but not as good</div>
<div class="t" style="left:932.79px;top:1346.44px;font-family:'Liberation Sans',sans-serif;font-weight:400;font-size:27.3px;line-height:35px;color:#45443f;-webkit-text-stroke:0.6px #e4e2dc;transform:scaleX(1.0053)">as aluminum</div>
<div class="t" style="left:1211.23px;top:1287.34px;font-family:'Liberation Sans',sans-serif;font-weight:400;font-size:27.3px;line-height:35px;color:#45443f;-webkit-text-stroke:0.6px #e4e2dc;transform:scaleX(0.9867)">Uneven &amp; slow</div>
<div class="t" style="left:1224.17px;top:1319.24px;font-family:'Liberation Sans',sans-serif;font-weight:400;font-size:27.3px;line-height:35px;color:#45443f;-webkit-text-stroke:0.6px #e4e2dc;transform:scaleX(1.0132)">heat transfer</div>
</body></html>
